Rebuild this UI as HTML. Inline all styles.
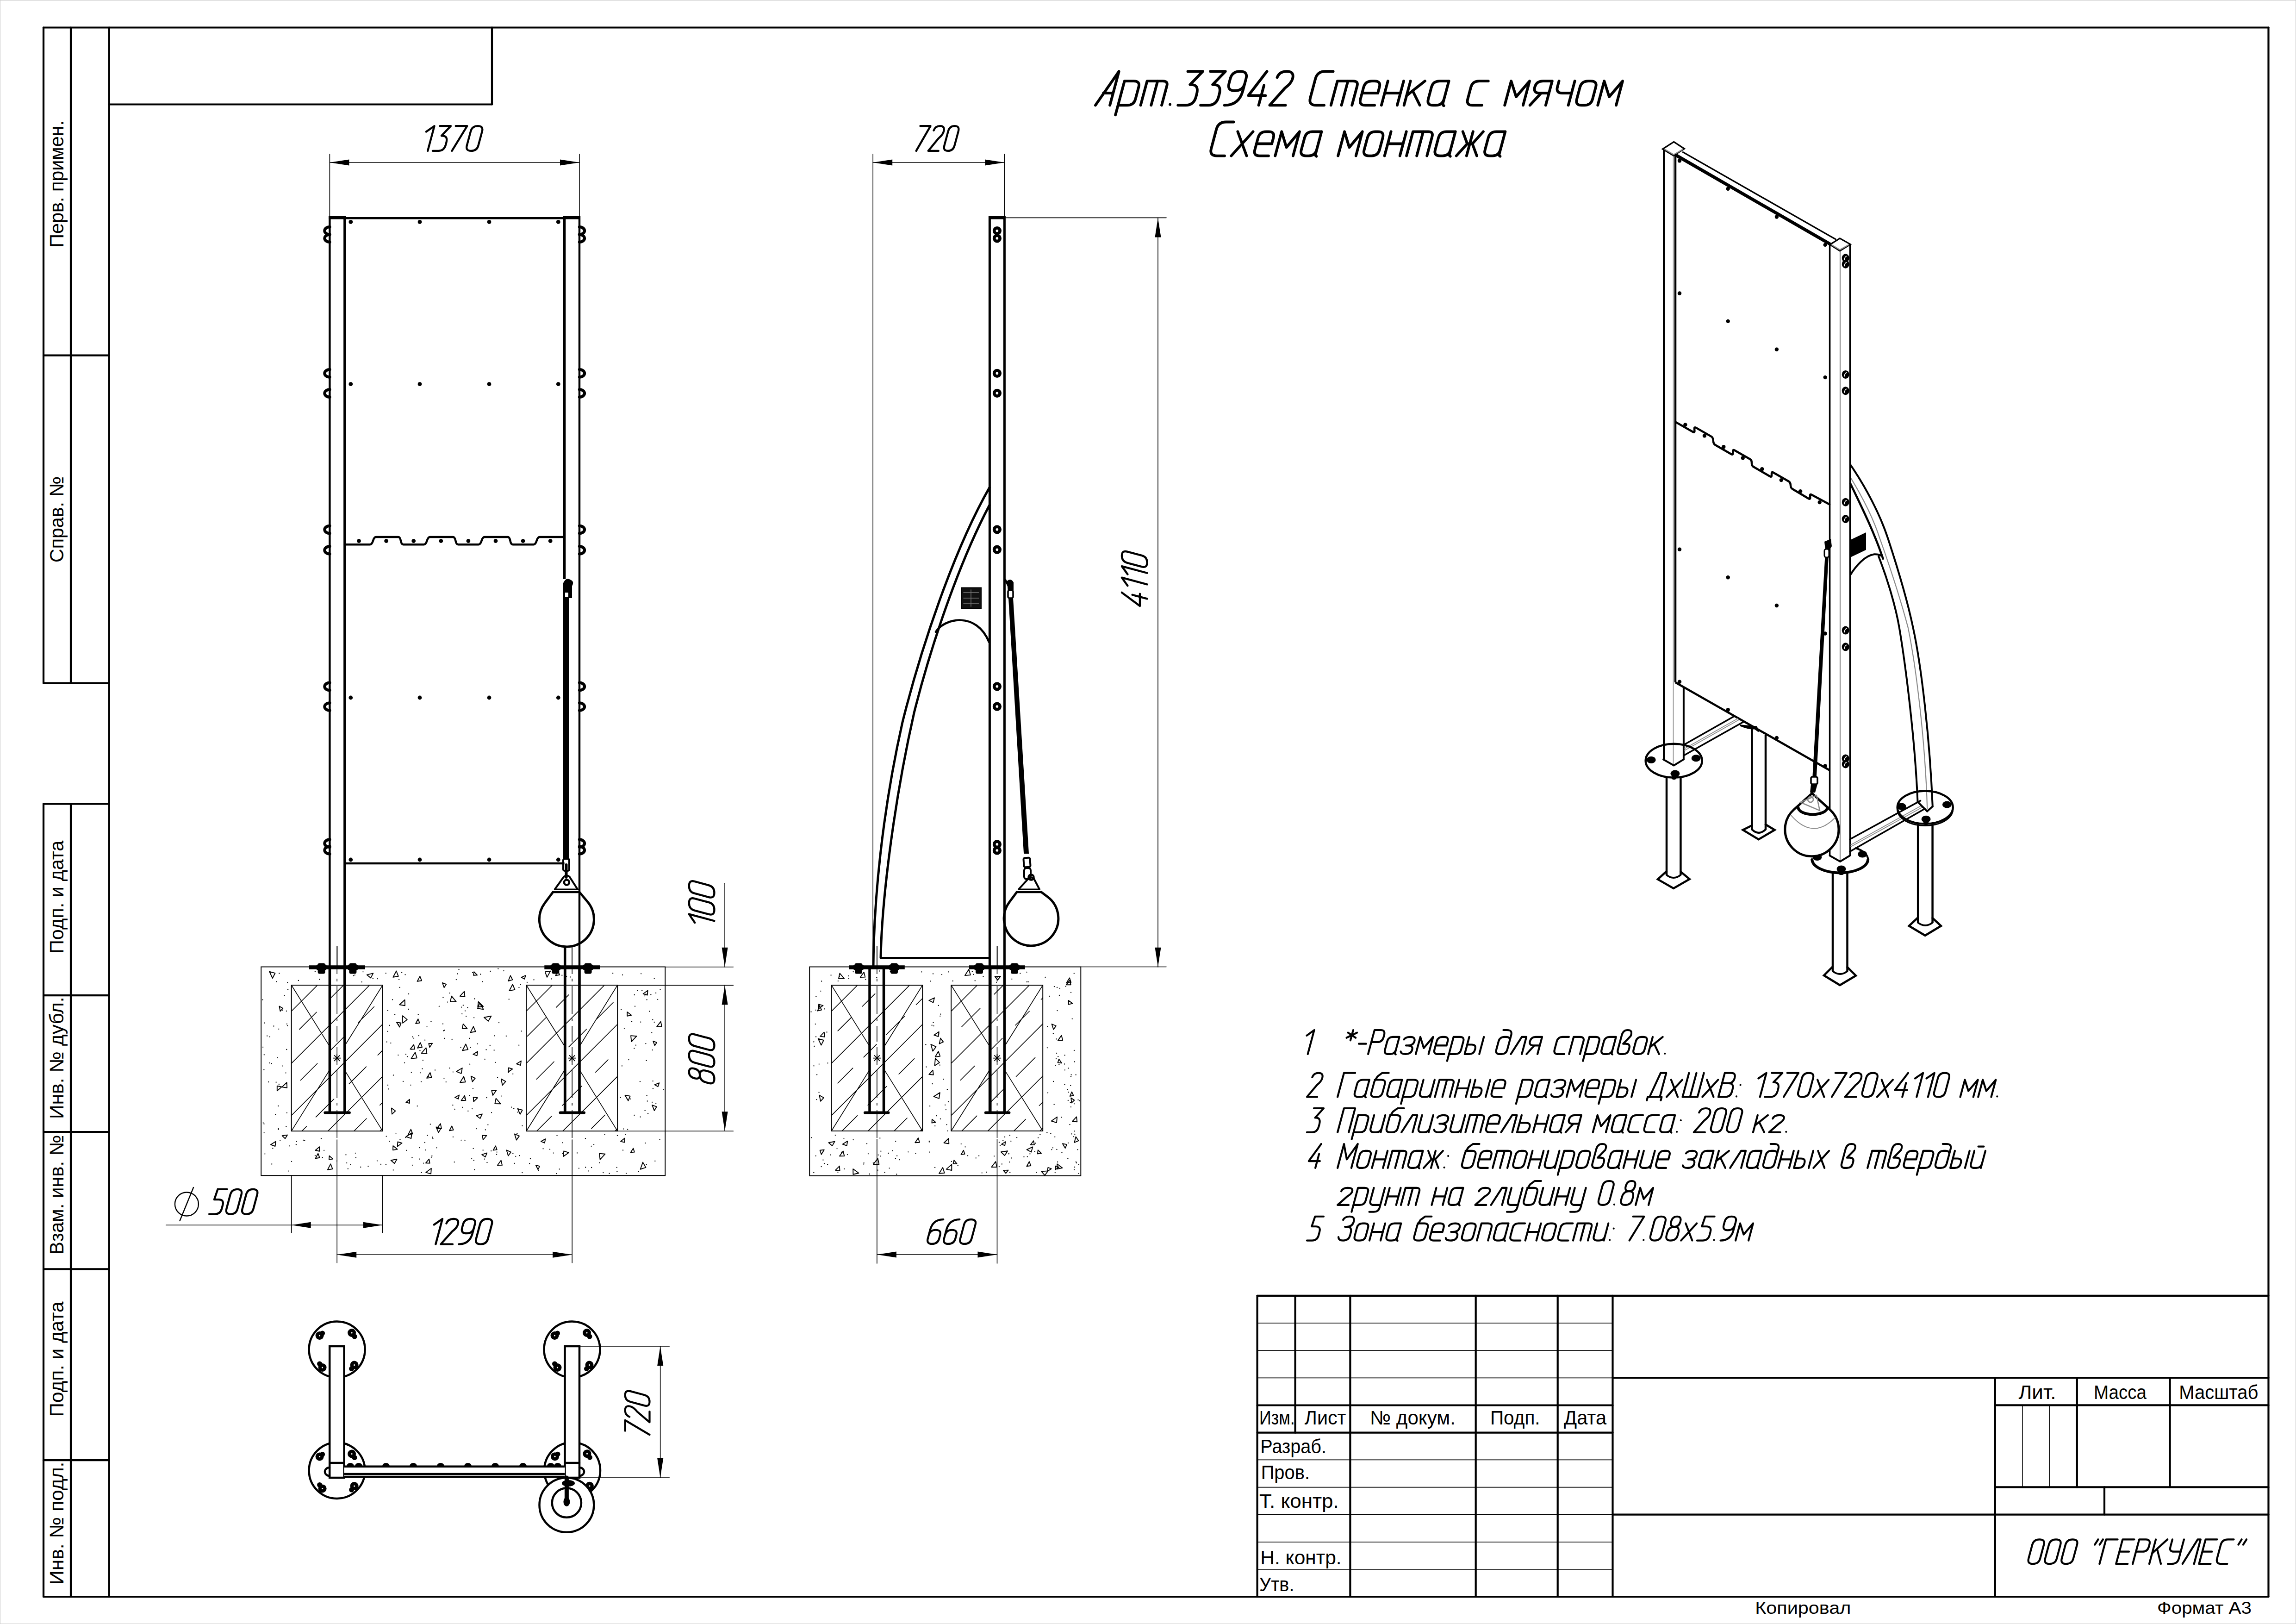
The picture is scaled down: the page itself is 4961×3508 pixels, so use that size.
<!DOCTYPE html>
<html><head><meta charset="utf-8"><style>
html,body{margin:0;padding:0;background:#fff;overflow:hidden;}
svg{display:block;}
.sans{font-family:"Liberation Sans",sans-serif;fill:#000;stroke:none;}
.gost{font-family:"Liberation Sans",sans-serif;font-style:italic;fill:#000;stroke:none;}
</style></head><body>
<svg width="4961" height="3508" viewBox="0 0 4961 3508">
<rect width="4961" height="3508" fill="#fff"/>
<g stroke="#000" stroke-linecap="round" fill="none">
<rect x="0" y="0" width="4961" height="1" fill="#bbb" stroke="none"/>
<rect x="0" y="0" width="1" height="3508" fill="#cbcbcb" stroke="none"/>
<rect x="4960" y="0" width="1" height="3508" fill="#c8c8c8" stroke="none"/>
<rect x="0" y="3507" width="4961" height="1" fill="#cbcbcb" stroke="none"/>
<line x1="94.0" y1="59.5" x2="4901.5" y2="59.5" stroke-width="4.2" />
<line x1="94.0" y1="3449.0" x2="4901.5" y2="3449.0" stroke-width="4.2" />
<line x1="94.0" y1="59.5" x2="94.0" y2="1475.7" stroke-width="4.2" />
<line x1="4901.5" y1="59.5" x2="4901.5" y2="3449.0" stroke-width="4.2" />
<line x1="235.7" y1="59.5" x2="235.7" y2="3449.0" stroke-width="4.2" />
<line x1="235.7" y1="225.5" x2="1063.0" y2="225.5" stroke-width="4.2" />
<line x1="1063.0" y1="59.5" x2="1063.0" y2="225.5" stroke-width="4.2" />
<line x1="153.0" y1="59.5" x2="153.0" y2="1475.7" stroke-width="4.2" />
<line x1="94.0" y1="767.7" x2="235.7" y2="767.7" stroke-width="4.2" />
<line x1="94.0" y1="1475.7" x2="235.7" y2="1475.7" stroke-width="4.2" />
<line x1="94.0" y1="1736.3" x2="235.7" y2="1736.3" stroke-width="4.2" />
<line x1="94.0" y1="1736.3" x2="94.0" y2="3449.0" stroke-width="4.2" />
<line x1="153.0" y1="1736.3" x2="153.0" y2="3449.0" stroke-width="4.2" />
<line x1="94.0" y1="2150.1" x2="235.7" y2="2150.1" stroke-width="4.2" />
<line x1="94.0" y1="2445.0" x2="235.7" y2="2445.0" stroke-width="4.2" />
<line x1="94.0" y1="2741.3" x2="235.7" y2="2741.3" stroke-width="4.2" />
<line x1="94.0" y1="3154.2" x2="235.7" y2="3154.2" stroke-width="4.2" />
<text class="sans" transform="translate(137,397.3) rotate(-90)" font-size="42.5" text-anchor="middle" textLength="274.7" lengthAdjust="spacingAndGlyphs">Перв. примен.</text>
<text class="sans" transform="translate(137,1121.8) rotate(-90)" font-size="42.5" text-anchor="middle" textLength="186.4" lengthAdjust="spacingAndGlyphs">Справ. №</text>
<text class="sans" transform="translate(137,1937.8) rotate(-90)" font-size="42.5" text-anchor="middle" textLength="244.5" lengthAdjust="spacingAndGlyphs">Подп. и дата</text>
<text class="sans" transform="translate(137,2285.2) rotate(-90)" font-size="42.5" text-anchor="middle" textLength="263.6" lengthAdjust="spacingAndGlyphs">Инв. № дубл.</text>
<text class="sans" transform="translate(137,2580.8) rotate(-90)" font-size="42.5" text-anchor="middle" textLength="258.5" lengthAdjust="spacingAndGlyphs">Взам. инв. №</text>
<text class="sans" transform="translate(137,2935.9) rotate(-90)" font-size="42.5" text-anchor="middle" textLength="249" lengthAdjust="spacingAndGlyphs">Подп. и дата</text>
<text class="sans" transform="translate(137,3290.3) rotate(-90)" font-size="42.5" text-anchor="middle" textLength="265.4" lengthAdjust="spacingAndGlyphs">Инв. № подл.</text>
<line x1="2716.6" y1="2798.8" x2="4901.5" y2="2798.8" stroke-width="4.2" />
<line x1="2716.6" y1="2798.8" x2="2716.6" y2="3449.0" stroke-width="4.2" />
<line x1="2716.6" y1="2858.0" x2="3484.5" y2="2858.0" stroke-width="1.6" />
<line x1="2716.6" y1="2917.2" x2="3484.5" y2="2917.2" stroke-width="1.6" />
<line x1="2716.6" y1="2976.4" x2="3484.5" y2="2976.4" stroke-width="1.6" />
<line x1="2716.6" y1="3035.5" x2="3484.5" y2="3035.5" stroke-width="4.2" />
<line x1="2716.6" y1="3094.7" x2="3484.5" y2="3094.7" stroke-width="4.2" />
<line x1="2716.6" y1="3153.4" x2="3484.5" y2="3153.4" stroke-width="1.6" />
<line x1="2716.6" y1="3212.6" x2="3484.5" y2="3212.6" stroke-width="1.6" />
<line x1="2716.6" y1="3271.8" x2="3484.5" y2="3271.8" stroke-width="1.6" />
<line x1="2716.6" y1="3331.0" x2="3484.5" y2="3331.0" stroke-width="1.6" />
<line x1="2716.6" y1="3390.0" x2="3484.5" y2="3390.0" stroke-width="1.6" />
<line x1="2798.6" y1="2798.8" x2="2798.6" y2="3094.7" stroke-width="4.2" />
<line x1="2917.4" y1="2798.8" x2="2917.4" y2="3449.0" stroke-width="4.2" />
<line x1="3188.7" y1="2798.8" x2="3188.7" y2="3449.0" stroke-width="4.2" />
<line x1="3365.7" y1="2798.8" x2="3365.7" y2="3449.0" stroke-width="4.2" />
<line x1="3484.5" y1="2798.8" x2="3484.5" y2="3449.0" stroke-width="4.2" />
<line x1="3484.5" y1="2976.1" x2="4901.5" y2="2976.1" stroke-width="4.2" />
<line x1="4310.8" y1="2976.1" x2="4310.8" y2="3449.0" stroke-width="4.2" />
<line x1="4310.8" y1="3035.3" x2="4901.5" y2="3035.3" stroke-width="4.2" />
<line x1="4487.8" y1="2976.1" x2="4487.8" y2="3212.4" stroke-width="4.2" />
<line x1="4688.6" y1="2976.1" x2="4688.6" y2="3212.4" stroke-width="4.2" />
<line x1="4370.0" y1="3035.3" x2="4370.0" y2="3212.4" stroke-width="1.6" />
<line x1="4428.6" y1="3035.3" x2="4428.6" y2="3212.4" stroke-width="1.6" />
<line x1="4310.8" y1="3212.4" x2="4901.5" y2="3212.4" stroke-width="4.2" />
<line x1="4547.0" y1="3212.4" x2="4547.0" y2="3271.6" stroke-width="4.2" />
<line x1="3484.5" y1="3271.6" x2="4901.5" y2="3271.6" stroke-width="4.2" />
<text class="sans" x="2721.0" y="3077.0" font-size="42" text-anchor="start" textLength="76.7" lengthAdjust="spacingAndGlyphs">Изм.</text>
<text class="sans" x="2818.8" y="3077.0" font-size="42" text-anchor="start" textLength="89.7" lengthAdjust="spacingAndGlyphs">Лист</text>
<text class="sans" x="2960.0" y="3077.0" font-size="42" text-anchor="start" textLength="185.0" lengthAdjust="spacingAndGlyphs">№ докум.</text>
<text class="sans" x="3220.0" y="3077.0" font-size="42" text-anchor="start" textLength="107.6" lengthAdjust="spacingAndGlyphs">Подп.</text>
<text class="sans" x="3379.0" y="3077.0" font-size="42" text-anchor="start" textLength="92.0" lengthAdjust="spacingAndGlyphs">Дата</text>
<text class="sans" x="2723.3" y="3138.6" font-size="42" text-anchor="start" textLength="142.7" lengthAdjust="spacingAndGlyphs">Разраб.</text>
<text class="sans" x="2724.7" y="3194.7" font-size="42" text-anchor="start" textLength="105.3" lengthAdjust="spacingAndGlyphs">Пров.</text>
<text class="sans" x="2721.0" y="3256.6" font-size="42" text-anchor="start" textLength="171.8" lengthAdjust="spacingAndGlyphs">Т. контр.</text>
<text class="sans" x="2723.3" y="3379.4" font-size="42" text-anchor="start" textLength="175.3" lengthAdjust="spacingAndGlyphs">Н. контр.</text>
<text class="sans" x="2721.0" y="3436.8" font-size="42" text-anchor="start" textLength="75.4" lengthAdjust="spacingAndGlyphs">Утв.</text>
<text class="sans" x="4361.5" y="3022.0" font-size="42" text-anchor="start" textLength="80.9" lengthAdjust="spacingAndGlyphs">Лит.</text>
<text class="sans" x="4524.0" y="3022.0" font-size="42" text-anchor="start" textLength="113.9" lengthAdjust="spacingAndGlyphs">Масса</text>
<text class="sans" x="4708.3" y="3022.0" font-size="42" text-anchor="start" textLength="171.1" lengthAdjust="spacingAndGlyphs">Масштаб</text>
<text class="sans" x="3792.2" y="3486.0" font-size="37" text-anchor="start" textLength="207.3" lengthAdjust="spacingAndGlyphs">Копировал</text>
<text class="sans" x="4661.0" y="3486.0" font-size="37" text-anchor="start" textLength="204.0" lengthAdjust="spacingAndGlyphs">Формат А3</text>
<g transform="translate(2366.9,227.3)" stroke="#000" fill="none" stroke-width="5.85" stroke-linecap="round" stroke-linejoin="round"><path vector-effect="non-scaling-stroke" transform="matrix(5.6797,0,1.4000,-5.2249,-0.00,0)" d="M0,0 L5.5,14 L5.5,0 M1.8,5 L5.5,5"/><path vector-effect="non-scaling-stroke" transform="matrix(5.6797,0,1.4000,-5.2249,48.85,0)" d="M0,-4 L0,10 L3.5,10 Q6,10 6,7.5 L6,2.5 Q6,0 3.5,0 L0,0"/><path vector-effect="non-scaling-stroke" transform="matrix(5.6797,0,1.4000,-5.2249,97.69,0)" d="M0,0 L0,10 L6,10 Q8,10 8,8 L8,0 M4,0 L4,10"/><path vector-effect="non-scaling-stroke" transform="matrix(5.6797,0,1.4000,-5.2249,157.90,0)" d="M0.5,0.3 L0.5,0.31"/><path vector-effect="non-scaling-stroke" transform="matrix(5.6797,0,1.4000,-5.2249,178.34,0)" d="M0.3,14 L6,14 L2.5,8.5 L3,8.5 Q6,8.5 6,4.5 L6,3.5 Q6,0 3,0 L0,0"/><path vector-effect="non-scaling-stroke" transform="matrix(5.6797,0,1.4000,-5.2249,227.19,0)" d="M0.3,14 L6,14 L2.5,8.5 L3,8.5 Q6,8.5 6,4.5 L6,3.5 Q6,0 3,0 L0,0"/><path vector-effect="non-scaling-stroke" transform="matrix(5.6797,0,1.4000,-5.2249,276.03,0)" d="M0.5,0 Q6,0 6,6 L6,11 Q6,14 3,14 Q0,14 0,11 L0,9 Q0,6 3,6 Q6,6 6,9"/><path vector-effect="non-scaling-stroke" transform="matrix(5.6797,0,1.4000,-5.2249,324.88,0)" d="M4.6,14 L0,4 L6.5,4 M4.9,8.2 L4.9,0"/><path vector-effect="non-scaling-stroke" transform="matrix(5.6797,0,1.4000,-5.2249,376.56,0)" d="M0,11.5 Q0.3,14 3,14 Q6,14 6,11 Q6,9 4,7 L0,0 L6,0"/><path vector-effect="non-scaling-stroke" transform="matrix(5.6797,0,1.4000,-5.2249,460.05,0)" d="M6,14 L3,14 Q0,14 0,11 L0,3 Q0,0 3,0 L6,0"/><path vector-effect="non-scaling-stroke" transform="matrix(5.6797,0,1.4000,-5.2249,508.90,0)" d="M0,0 L0,10 L6,10 Q8,10 8,8 L8,0 M4,0 L4,10"/><path vector-effect="non-scaling-stroke" transform="matrix(5.6797,0,1.4000,-5.2249,569.10,0)" d="M6,0 L2.5,0 Q0,0 0,2.5 L0,7.5 Q0,10 2.5,10 L3.5,10 Q6,10 6,7.5 L6,5 L0,5"/><path vector-effect="non-scaling-stroke" transform="matrix(5.6797,0,1.4000,-5.2249,617.95,0)" d="M0,0 L0,10 M0,5 L6,5 M6,0 L6,10"/><path vector-effect="non-scaling-stroke" transform="matrix(5.6797,0,1.4000,-5.2249,666.79,0)" d="M0,0 L0,10 M5.5,10 L0,4 M1.8,6 L6,0"/><path vector-effect="non-scaling-stroke" transform="matrix(5.6797,0,1.4000,-5.2249,715.64,0)" d="M6,10 L2.5,10 Q0,10 0,7.5 L0,2.5 Q0,0 2.5,0 L3.5,0 Q6,0 6,2.5 M6,10 L6,1 Q6,0 6.6,-0.2"/><path vector-effect="non-scaling-stroke" transform="matrix(5.6797,0,1.4000,-5.2249,800.84,0)" d="M6,10 L2.5,10 Q0,10 0,7.5 L0,2.5 Q0,0 2.5,0 L6,0"/><path vector-effect="non-scaling-stroke" transform="matrix(5.6797,0,1.4000,-5.2249,884.33,0)" d="M0,0 L0,10 L3.5,3.5 L7,10 L7,0"/><path vector-effect="non-scaling-stroke" transform="matrix(5.6797,0,1.4000,-5.2249,938.85,0)" d="M6,0 L6,10 L2.5,10 Q0,10 0,7.5 L0,7.5 Q0,5 2.5,5 L6,5 M3,5 L0,0"/><path vector-effect="non-scaling-stroke" transform="matrix(5.6797,0,1.4000,-5.2249,987.70,0)" d="M0,10 L0,7.5 Q0,5 2.5,5 L6,5 M6,10 L6,0"/><path vector-effect="non-scaling-stroke" transform="matrix(5.6797,0,1.4000,-5.2249,1036.54,0)" d="M2.5,0 L3.5,0 Q6,0 6,2.5 L6,7.5 Q6,10 3.5,10 L2.5,10 Q0,10 0,7.5 L0,2.5 Q0,0 2.5,0 Z"/><path vector-effect="non-scaling-stroke" transform="matrix(5.6797,0,1.4000,-5.2249,1085.39,0)" d="M0,0 L0,10 L3.5,3.5 L7,10 L7,0"/></g>
<g transform="translate(2612.9,336.6)" stroke="#000" fill="none" stroke-width="5.85" stroke-linecap="round" stroke-linejoin="round"><path vector-effect="non-scaling-stroke" transform="matrix(5.5206,0,1.4000,-5.2249,-0.00,0)" d="M6,14 L3,14 Q0,14 0,11 L0,3 Q0,0 3,0 L6,0"/><path vector-effect="non-scaling-stroke" transform="matrix(5.5206,0,1.4000,-5.2249,47.48,0)" d="M0,0 L6,10 M0,10 L6,0"/><path vector-effect="non-scaling-stroke" transform="matrix(5.5206,0,1.4000,-5.2249,94.96,0)" d="M6,0 L2.5,0 Q0,0 0,2.5 L0,7.5 Q0,10 2.5,10 L3.5,10 Q6,10 6,7.5 L6,5 L0,5"/><path vector-effect="non-scaling-stroke" transform="matrix(5.5206,0,1.4000,-5.2249,142.43,0)" d="M0,0 L0,10 L3.5,3.5 L7,10 L7,0"/><path vector-effect="non-scaling-stroke" transform="matrix(5.5206,0,1.4000,-5.2249,195.43,0)" d="M6,10 L2.5,10 Q0,10 0,7.5 L0,2.5 Q0,0 2.5,0 L3.5,0 Q6,0 6,2.5 M6,10 L6,1 Q6,0 6.6,-0.2"/><path vector-effect="non-scaling-stroke" transform="matrix(5.5206,0,1.4000,-5.2249,278.24,0)" d="M0,0 L0,10 L3.5,3.5 L7,10 L7,0"/><path vector-effect="non-scaling-stroke" transform="matrix(5.5206,0,1.4000,-5.2249,331.24,0)" d="M2.5,0 L3.5,0 Q6,0 6,2.5 L6,7.5 Q6,10 3.5,10 L2.5,10 Q0,10 0,7.5 L0,2.5 Q0,0 2.5,0 Z"/><path vector-effect="non-scaling-stroke" transform="matrix(5.5206,0,1.4000,-5.2249,378.72,0)" d="M0,0 L0,10 M0,5 L6,5 M6,0 L6,10"/><path vector-effect="non-scaling-stroke" transform="matrix(5.5206,0,1.4000,-5.2249,426.19,0)" d="M0,0 L0,10 L6,10 Q8,10 8,8 L8,0 M4,0 L4,10"/><path vector-effect="non-scaling-stroke" transform="matrix(5.5206,0,1.4000,-5.2249,484.71,0)" d="M6,10 L2.5,10 Q0,10 0,7.5 L0,2.5 Q0,0 2.5,0 L3.5,0 Q6,0 6,2.5 M6,10 L6,1 Q6,0 6.6,-0.2"/><path vector-effect="non-scaling-stroke" transform="matrix(5.5206,0,1.4000,-5.2249,533.85,0)" d="M0,0 L3,5 L0,10 M4,0 L4,10 M8,0 L5,5 L8,10 M3,5 L5,5"/><path vector-effect="non-scaling-stroke" transform="matrix(5.5206,0,1.4000,-5.2249,592.37,0)" d="M6,10 L2.5,10 Q0,10 0,7.5 L0,2.5 Q0,0 2.5,0 L3.5,0 Q6,0 6,2.5 M6,10 L6,1 Q6,0 6.6,-0.2"/></g>
<g transform="translate(2823.9,2276.9)" stroke="#000" fill="none" stroke-width="4.15" stroke-linecap="round" stroke-linejoin="round"><path vector-effect="non-scaling-stroke" transform="matrix(3.7037,0,0.9924,-3.7037,-11.11,0)" d="M0,10.8 L3.5,14 L3.5,0"/></g>
<g transform="translate(2900.1,2276.9)" stroke="#000" fill="none" stroke-width="4.15" stroke-linecap="round" stroke-linejoin="round"><path vector-effect="non-scaling-stroke" transform="matrix(3.9439,0,0.9924,-3.7037,-0.00,0)" d="M2.5,8 L2.5,14 M0,12.5 L5,9.5 M0,9.5 L5,12.5"/><path vector-effect="non-scaling-stroke" transform="matrix(3.9439,0,0.9924,-3.7037,29.97,0)" d="M0,6 L4,6"/><path vector-effect="non-scaling-stroke" transform="matrix(3.9439,0,0.9924,-3.7037,56.00,0)" d="M0,0 L0,14 L3.5,14 Q6,14 6,11 L6,10 Q6,7 3.5,7 L0,7"/><path vector-effect="non-scaling-stroke" transform="matrix(3.9439,0,0.9924,-3.7037,89.92,0)" d="M6,10 L2.5,10 Q0,10 0,7.5 L0,2.5 Q0,0 2.5,0 L3.5,0 Q6,0 6,2.5 M6,10 L6,1 Q6,0 6.6,-0.2"/><path vector-effect="non-scaling-stroke" transform="matrix(3.9439,0,0.9924,-3.7037,125.02,0)" d="M0,8.5 Q0.5,10 3,10 Q6,10 6,7.5 Q6,5 3,5 L2,5 M3,5 Q6,5 6,2.5 Q6,0 3,0 Q0.5,0 0,1.5"/><path vector-effect="non-scaling-stroke" transform="matrix(3.9439,0,0.9924,-3.7037,158.94,0)" d="M0,0 L0,10 L3.5,3.5 L7,10 L7,0"/><path vector-effect="non-scaling-stroke" transform="matrix(3.9439,0,0.9924,-3.7037,196.80,0)" d="M6,0 L2.5,0 Q0,0 0,2.5 L0,7.5 Q0,10 2.5,10 L3.5,10 Q6,10 6,7.5 L6,5 L0,5"/><path vector-effect="non-scaling-stroke" transform="matrix(3.9439,0,0.9924,-3.7037,230.72,0)" d="M0,-4 L0,10 L3.5,10 Q6,10 6,7.5 L6,2.5 Q6,0 3.5,0 L0,0"/><path vector-effect="non-scaling-stroke" transform="matrix(3.9439,0,0.9924,-3.7037,264.64,0)" d="M0,10 L0,0 L2.5,0 Q5,0 5,2.5 L5,3 Q5,5.5 2.5,5.5 L0,5.5 M8,0 L8,10"/><path vector-effect="non-scaling-stroke" transform="matrix(3.9439,0,0.9924,-3.7037,330.50,0)" d="M0,2.5 Q0,0 2.5,0 L3.5,0 Q6,0 6,2.5 L6,7.5 Q6,10 3.5,10 L2.5,10 Q0,10 0,7.5 L0,2.5 M6,7.5 L6,11 Q6,14 3,14 L1,14"/><path vector-effect="non-scaling-stroke" transform="matrix(3.9439,0,0.9924,-3.7037,364.42,0)" d="M0,0 L3.5,10 L6,10 L6,0"/><path vector-effect="non-scaling-stroke" transform="matrix(3.9439,0,0.9924,-3.7037,398.33,0)" d="M6,0 L6,10 L2.5,10 Q0,10 0,7.5 L0,7.5 Q0,5 2.5,5 L6,5 M3,5 L0,0"/><path vector-effect="non-scaling-stroke" transform="matrix(3.9439,0,0.9924,-3.7037,456.31,0)" d="M6,10 L2.5,10 Q0,10 0,7.5 L0,2.5 Q0,0 2.5,0 L6,0"/><path vector-effect="non-scaling-stroke" transform="matrix(3.9439,0,0.9924,-3.7037,490.23,0)" d="M0,0 L0,10 L3.5,10 Q6,10 6,7.5 L6,0"/><path vector-effect="non-scaling-stroke" transform="matrix(3.9439,0,0.9924,-3.7037,524.14,0)" d="M0,-4 L0,10 L3.5,10 Q6,10 6,7.5 L6,2.5 Q6,0 3.5,0 L0,0"/><path vector-effect="non-scaling-stroke" transform="matrix(3.9439,0,0.9924,-3.7037,558.06,0)" d="M6,10 L2.5,10 Q0,10 0,7.5 L0,2.5 Q0,0 2.5,0 L3.5,0 Q6,0 6,2.5 M6,10 L6,1 Q6,0 6.6,-0.2"/><path vector-effect="non-scaling-stroke" transform="matrix(3.9439,0,0.9924,-3.7037,593.16,0)" d="M0,9 L0,2.5 Q0,0 2.5,0 L3.5,0 Q6,0 6,2.5 L6,3.5 Q6,6 3.5,6 L2,6 L5,10.5 Q5.5,14 2.5,14 Q0,14 0,11 L0,9"/><path vector-effect="non-scaling-stroke" transform="matrix(3.9439,0,0.9924,-3.7037,627.08,0)" d="M2.5,0 L3.5,0 Q6,0 6,2.5 L6,7.5 Q6,10 3.5,10 L2.5,10 Q0,10 0,7.5 L0,2.5 Q0,0 2.5,0 Z"/><path vector-effect="non-scaling-stroke" transform="matrix(3.9439,0,0.9924,-3.7037,661.00,0)" d="M0,0 L0,10 M5.5,10 L0,4 M1.8,6 L6,0"/><path vector-effect="non-scaling-stroke" transform="matrix(3.9439,0,0.9924,-3.7037,694.92,0)" d="M0.5,0.3 L0.5,0.31"/></g>
<g transform="translate(2823.9,2369.5)" stroke="#000" fill="none" stroke-width="4.15" stroke-linecap="round" stroke-linejoin="round"><path vector-effect="non-scaling-stroke" transform="matrix(3.7037,0,0.9924,-3.7037,-0.00,0)" d="M0,11.5 Q0.3,14 3,14 Q6,14 6,11 Q6,9 4,7 L0,0 L6,0"/></g>
<g transform="translate(2890.1,2369.5)" stroke="#000" fill="none" stroke-width="4.15" stroke-linecap="round" stroke-linejoin="round"><path vector-effect="non-scaling-stroke" transform="matrix(4.0295,0,0.9924,-3.7037,-0.00,0)" d="M0,0 L0,14 L6,14"/><path vector-effect="non-scaling-stroke" transform="matrix(4.0295,0,0.9924,-3.7037,34.65,0)" d="M6,10 L2.5,10 Q0,10 0,7.5 L0,2.5 Q0,0 2.5,0 L3.5,0 Q6,0 6,2.5 M6,10 L6,1 Q6,0 6.6,-0.2"/><path vector-effect="non-scaling-stroke" transform="matrix(4.0295,0,0.9924,-3.7037,70.52,0)" d="M6.5,14 L3,14 L1,12 L0,9 L0,2.5 Q0,0 2.5,0 L3.5,0 Q6,0 6,2.5 L6,7.5 Q6,10 3.5,10 L0,10"/><path vector-effect="non-scaling-stroke" transform="matrix(4.0295,0,0.9924,-3.7037,105.17,0)" d="M6,10 L2.5,10 Q0,10 0,7.5 L0,2.5 Q0,0 2.5,0 L3.5,0 Q6,0 6,2.5 M6,10 L6,1 Q6,0 6.6,-0.2"/><path vector-effect="non-scaling-stroke" transform="matrix(4.0295,0,0.9924,-3.7037,141.03,0)" d="M0,-4 L0,10 L3.5,10 Q6,10 6,7.5 L6,2.5 Q6,0 3.5,0 L0,0"/><path vector-effect="non-scaling-stroke" transform="matrix(4.0295,0,0.9924,-3.7037,175.69,0)" d="M0,10 L0,2.5 Q0,0 2.5,0 L3.5,0 Q6,0 6,2.5 M6,10 L6,0"/><path vector-effect="non-scaling-stroke" transform="matrix(4.0295,0,0.9924,-3.7037,210.34,0)" d="M0,0 L0,10 L6,10 Q8,10 8,8 L8,0 M4,0 L4,10"/><path vector-effect="non-scaling-stroke" transform="matrix(4.0295,0,0.9924,-3.7037,253.05,0)" d="M0,0 L0,10 M0,5 L6,5 M6,0 L6,10"/><path vector-effect="non-scaling-stroke" transform="matrix(4.0295,0,0.9924,-3.7037,287.71,0)" d="M0,10 L0,0 L2.5,0 Q5,0 5,2.5 L5,3 Q5,5.5 2.5,5.5 L0,5.5 M8,0 L8,10"/><path vector-effect="non-scaling-stroke" transform="matrix(4.0295,0,0.9924,-3.7037,330.42,0)" d="M6,0 L2.5,0 Q0,0 0,2.5 L0,7.5 Q0,10 2.5,10 L3.5,10 Q6,10 6,7.5 L6,5 L0,5"/><path vector-effect="non-scaling-stroke" transform="matrix(4.0295,0,0.9924,-3.7037,389.66,0)" d="M0,-4 L0,10 L3.5,10 Q6,10 6,7.5 L6,2.5 Q6,0 3.5,0 L0,0"/><path vector-effect="non-scaling-stroke" transform="matrix(4.0295,0,0.9924,-3.7037,424.31,0)" d="M6,10 L2.5,10 Q0,10 0,7.5 L0,2.5 Q0,0 2.5,0 L3.5,0 Q6,0 6,2.5 M6,10 L6,1 Q6,0 6.6,-0.2"/><path vector-effect="non-scaling-stroke" transform="matrix(4.0295,0,0.9924,-3.7037,460.17,0)" d="M0,8.5 Q0.5,10 3,10 Q6,10 6,7.5 Q6,5 3,5 L2,5 M3,5 Q6,5 6,2.5 Q6,0 3,0 Q0.5,0 0,1.5"/><path vector-effect="non-scaling-stroke" transform="matrix(4.0295,0,0.9924,-3.7037,494.83,0)" d="M0,0 L0,10 L3.5,3.5 L7,10 L7,0"/><path vector-effect="non-scaling-stroke" transform="matrix(4.0295,0,0.9924,-3.7037,533.51,0)" d="M6,0 L2.5,0 Q0,0 0,2.5 L0,7.5 Q0,10 2.5,10 L3.5,10 Q6,10 6,7.5 L6,5 L0,5"/><path vector-effect="non-scaling-stroke" transform="matrix(4.0295,0,0.9924,-3.7037,568.16,0)" d="M0,-4 L0,10 L3.5,10 Q6,10 6,7.5 L6,2.5 Q6,0 3.5,0 L0,0"/><path vector-effect="non-scaling-stroke" transform="matrix(4.0295,0,0.9924,-3.7037,602.82,0)" d="M0,10 L0,0 L2.5,0 Q5,0 5,2.5 L5,3 Q5,5.5 2.5,5.5 L0,5.5 M8,0 L8,10"/><path vector-effect="non-scaling-stroke" transform="matrix(4.0295,0,0.9924,-3.7037,670.11,0)" d="M0,-2 L0,0 L7.5,0 L7.5,-2 M1,0 L3.5,14 L6.5,14 L6.5,0"/><path vector-effect="non-scaling-stroke" transform="matrix(4.0295,0,0.9924,-3.7037,710.81,0)" d="M0,0 L6,10 M0,10 L6,0"/><path vector-effect="non-scaling-stroke" transform="matrix(4.0295,0,0.9924,-3.7037,745.46,0)" d="M0,14 L0,0 L8,0 L8,14 M4,0 L4,14"/><path vector-effect="non-scaling-stroke" transform="matrix(4.0295,0,0.9924,-3.7037,788.18,0)" d="M0,0 L6,10 M0,10 L6,0"/><path vector-effect="non-scaling-stroke" transform="matrix(4.0295,0,0.9924,-3.7037,822.83,0)" d="M0,0 L0,14 L3.5,14 Q6,14 6,11 Q6,8 3.5,8 L0,8 M3.5,8 Q6.5,8 6.5,4.5 L6.5,3 Q6.5,0 3.5,0 L0,0"/><path vector-effect="non-scaling-stroke" transform="matrix(4.0295,0,0.9924,-3.7037,859.50,0)" d="M0.5,0.3 L0.5,0.31 M1,7 L1,7.01"/><path vector-effect="non-scaling-stroke" transform="matrix(4.0295,0,0.9924,-3.7037,898.59,0)" d="M0,10.8 L3.5,14 L3.5,0"/><path vector-effect="non-scaling-stroke" transform="matrix(4.0295,0,0.9924,-3.7037,923.17,0)" d="M0.3,14 L6,14 L2.5,8.5 L3,8.5 Q6,8.5 6,4.5 L6,3.5 Q6,0 3,0 L0,0"/><path vector-effect="non-scaling-stroke" transform="matrix(4.0295,0,0.9924,-3.7037,957.82,0)" d="M0,14 L6,14 L1.5,0"/><path vector-effect="non-scaling-stroke" transform="matrix(4.0295,0,0.9924,-3.7037,992.48,0)" d="M3,0 L3,0 Q6,0 6,3 L6,11 Q6,14 3,14 L3,14 Q0,14 0,11 L0,3 Q0,0 3,0 Z"/><path vector-effect="non-scaling-stroke" transform="matrix(4.0295,0,0.9924,-3.7037,1027.13,0)" d="M0,0 L6,10 M0,10 L6,0"/><path vector-effect="non-scaling-stroke" transform="matrix(4.0295,0,0.9924,-3.7037,1061.78,0)" d="M0,14 L6,14 L1.5,0"/><path vector-effect="non-scaling-stroke" transform="matrix(4.0295,0,0.9924,-3.7037,1096.44,0)" d="M0,11.5 Q0.3,14 3,14 Q6,14 6,11 Q6,9 4,7 L0,0 L6,0"/><path vector-effect="non-scaling-stroke" transform="matrix(4.0295,0,0.9924,-3.7037,1131.09,0)" d="M3,0 L3,0 Q6,0 6,3 L6,11 Q6,14 3,14 L3,14 Q0,14 0,11 L0,3 Q0,0 3,0 Z"/><path vector-effect="non-scaling-stroke" transform="matrix(4.0295,0,0.9924,-3.7037,1165.75,0)" d="M0,0 L6,10 M0,10 L6,0"/><path vector-effect="non-scaling-stroke" transform="matrix(4.0295,0,0.9924,-3.7037,1200.40,0)" d="M4.6,14 L0,4 L6.5,4 M4.9,8.2 L4.9,0"/><path vector-effect="non-scaling-stroke" transform="matrix(4.0295,0,0.9924,-3.7037,1237.07,0)" d="M0,10.8 L3.5,14 L3.5,0"/><path vector-effect="non-scaling-stroke" transform="matrix(4.0295,0,0.9924,-3.7037,1261.65,0)" d="M0,10.8 L3.5,14 L3.5,0"/><path vector-effect="non-scaling-stroke" transform="matrix(4.0295,0,0.9924,-3.7037,1286.23,0)" d="M3,0 L3,0 Q6,0 6,3 L6,11 Q6,14 3,14 L3,14 Q0,14 0,11 L0,3 Q0,0 3,0 Z"/><path vector-effect="non-scaling-stroke" transform="matrix(4.0295,0,0.9924,-3.7037,1345.46,0)" d="M0,0 L0,10 L3.5,3.5 L7,10 L7,0"/><path vector-effect="non-scaling-stroke" transform="matrix(4.0295,0,0.9924,-3.7037,1384.15,0)" d="M0,0 L0,10 L3.5,3.5 L7,10 L7,0"/><path vector-effect="non-scaling-stroke" transform="matrix(4.0295,0,0.9924,-3.7037,1422.83,0)" d="M0.5,0.3 L0.5,0.31"/></g>
<g transform="translate(2823.9,2445.9)" stroke="#000" fill="none" stroke-width="4.15" stroke-linecap="round" stroke-linejoin="round"><path vector-effect="non-scaling-stroke" transform="matrix(3.7037,0,0.9924,-3.7037,-0.00,0)" d="M0.3,14 L6,14 L2.5,8.5 L3,8.5 Q6,8.5 6,4.5 L6,3.5 Q6,0 3,0 L0,0"/></g>
<g transform="translate(2890.1,2445.9)" stroke="#000" fill="none" stroke-width="4.15" stroke-linecap="round" stroke-linejoin="round"><path vector-effect="non-scaling-stroke" transform="matrix(4.0151,0,0.9924,-3.7037,-0.00,0)" d="M0,0 L0,14 L6,14 L6,0"/><path vector-effect="non-scaling-stroke" transform="matrix(4.0151,0,0.9924,-3.7037,34.53,0)" d="M0,-4 L0,10 L3.5,10 Q6,10 6,7.5 L6,2.5 Q6,0 3.5,0 L0,0"/><path vector-effect="non-scaling-stroke" transform="matrix(4.0151,0,0.9924,-3.7037,69.06,0)" d="M0,10 L0,2.5 Q0,0 2.5,0 L3.5,0 Q6,0 6,2.5 M6,10 L6,0"/><path vector-effect="non-scaling-stroke" transform="matrix(4.0151,0,0.9924,-3.7037,103.59,0)" d="M6.5,14 L3,14 L1,12 L0,9 L0,2.5 Q0,0 2.5,0 L3.5,0 Q6,0 6,2.5 L6,7.5 Q6,10 3.5,10 L0,10"/><path vector-effect="non-scaling-stroke" transform="matrix(4.0151,0,0.9924,-3.7037,138.12,0)" d="M0,0 L3.5,10 L6,10 L6,0"/><path vector-effect="non-scaling-stroke" transform="matrix(4.0151,0,0.9924,-3.7037,172.65,0)" d="M0,10 L0,2.5 Q0,0 2.5,0 L3.5,0 Q6,0 6,2.5 M6,10 L6,0"/><path vector-effect="non-scaling-stroke" transform="matrix(4.0151,0,0.9924,-3.7037,207.18,0)" d="M0,8.5 Q0.5,10 3,10 Q6,10 6,7.5 Q6,5 3,5 L2,5 M3,5 Q6,5 6,2.5 Q6,0 3,0 Q0.5,0 0,1.5"/><path vector-effect="non-scaling-stroke" transform="matrix(4.0151,0,0.9924,-3.7037,241.71,0)" d="M0,10 L0,2.5 Q0,0 2.5,0 L3.5,0 Q6,0 6,2.5 M6,10 L6,0"/><path vector-effect="non-scaling-stroke" transform="matrix(4.0151,0,0.9924,-3.7037,276.24,0)" d="M0,0 L0,10 L6,10 Q8,10 8,8 L8,0 M4,0 L4,10"/><path vector-effect="non-scaling-stroke" transform="matrix(4.0151,0,0.9924,-3.7037,318.80,0)" d="M6,0 L2.5,0 Q0,0 0,2.5 L0,7.5 Q0,10 2.5,10 L3.5,10 Q6,10 6,7.5 L6,5 L0,5"/><path vector-effect="non-scaling-stroke" transform="matrix(4.0151,0,0.9924,-3.7037,353.33,0)" d="M0,0 L3.5,10 L6,10 L6,0"/><path vector-effect="non-scaling-stroke" transform="matrix(4.0151,0,0.9924,-3.7037,387.86,0)" d="M0,10 L0,0 L3.5,0 Q6,0 6,2.5 L6,3 Q6,5.5 3.5,5.5 L0,5.5"/><path vector-effect="non-scaling-stroke" transform="matrix(4.0151,0,0.9924,-3.7037,422.39,0)" d="M0,0 L0,10 M0,5 L6,5 M6,0 L6,10"/><path vector-effect="non-scaling-stroke" transform="matrix(4.0151,0,0.9924,-3.7037,456.92,0)" d="M6,10 L2.5,10 Q0,10 0,7.5 L0,2.5 Q0,0 2.5,0 L3.5,0 Q6,0 6,2.5 M6,10 L6,1 Q6,0 6.6,-0.2"/><path vector-effect="non-scaling-stroke" transform="matrix(4.0151,0,0.9924,-3.7037,492.66,0)" d="M6,0 L6,10 L2.5,10 Q0,10 0,7.5 L0,7.5 Q0,5 2.5,5 L6,5 M3,5 L0,0"/><path vector-effect="non-scaling-stroke" transform="matrix(4.0151,0,0.9924,-3.7037,551.68,0)" d="M0,0 L0,10 L3.5,3.5 L7,10 L7,0"/><path vector-effect="non-scaling-stroke" transform="matrix(4.0151,0,0.9924,-3.7037,590.22,0)" d="M6,10 L2.5,10 Q0,10 0,7.5 L0,2.5 Q0,0 2.5,0 L3.5,0 Q6,0 6,2.5 M6,10 L6,1 Q6,0 6.6,-0.2"/><path vector-effect="non-scaling-stroke" transform="matrix(4.0151,0,0.9924,-3.7037,625.96,0)" d="M6,10 L2.5,10 Q0,10 0,7.5 L0,2.5 Q0,0 2.5,0 L6,0"/><path vector-effect="non-scaling-stroke" transform="matrix(4.0151,0,0.9924,-3.7037,660.49,0)" d="M6,10 L2.5,10 Q0,10 0,7.5 L0,2.5 Q0,0 2.5,0 L6,0"/><path vector-effect="non-scaling-stroke" transform="matrix(4.0151,0,0.9924,-3.7037,695.02,0)" d="M6,10 L2.5,10 Q0,10 0,7.5 L0,2.5 Q0,0 2.5,0 L3.5,0 Q6,0 6,2.5 M6,10 L6,1 Q6,0 6.6,-0.2"/><path vector-effect="non-scaling-stroke" transform="matrix(4.0151,0,0.9924,-3.7037,730.75,0)" d="M0.5,0.3 L0.5,0.31 M1,7 L1,7.01"/><path vector-effect="non-scaling-stroke" transform="matrix(4.0151,0,0.9924,-3.7037,769.70,0)" d="M0,11.5 Q0.3,14 3,14 Q6,14 6,11 Q6,9 4,7 L0,0 L6,0"/><path vector-effect="non-scaling-stroke" transform="matrix(4.0151,0,0.9924,-3.7037,804.23,0)" d="M3,0 L3,0 Q6,0 6,3 L6,11 Q6,14 3,14 L3,14 Q0,14 0,11 L0,3 Q0,0 3,0 Z"/><path vector-effect="non-scaling-stroke" transform="matrix(4.0151,0,0.9924,-3.7037,838.76,0)" d="M3,0 L3,0 Q6,0 6,3 L6,11 Q6,14 3,14 L3,14 Q0,14 0,11 L0,3 Q0,0 3,0 Z"/><path vector-effect="non-scaling-stroke" transform="matrix(4.0151,0,0.9924,-3.7037,897.78,0)" d="M0,0 L0,10 M5.5,10 L0,4 M1.8,6 L6,0"/><path vector-effect="non-scaling-stroke" transform="matrix(4.0151,0,0.9924,-3.7037,932.31,0)" d="M0,8 Q0.3,10 3,10 Q6,10 6,8 Q6,6.5 4,5 L0,0 L6,0"/><path vector-effect="non-scaling-stroke" transform="matrix(4.0151,0,0.9924,-3.7037,966.84,0)" d="M0.5,0.3 L0.5,0.31"/></g>
<g transform="translate(2823.9,2522.9)" stroke="#000" fill="none" stroke-width="4.15" stroke-linecap="round" stroke-linejoin="round"><path vector-effect="non-scaling-stroke" transform="matrix(3.7037,0,0.9924,-3.7037,-0.00,0)" d="M4.6,14 L0,4 L6.5,4 M4.9,8.2 L4.9,0"/></g>
<g transform="translate(2890.1,2522.9)" stroke="#000" fill="none" stroke-width="4.15" stroke-linecap="round" stroke-linejoin="round"><path vector-effect="non-scaling-stroke" transform="matrix(3.9746,0,0.9924,-3.7037,-0.00,0)" d="M0,0 L0,14 L3.75,5 L7.5,14 L7.5,0"/><path vector-effect="non-scaling-stroke" transform="matrix(3.9746,0,0.9924,-3.7037,40.14,0)" d="M2.5,0 L3.5,0 Q6,0 6,2.5 L6,7.5 Q6,10 3.5,10 L2.5,10 Q0,10 0,7.5 L0,2.5 Q0,0 2.5,0 Z"/><path vector-effect="non-scaling-stroke" transform="matrix(3.9746,0,0.9924,-3.7037,74.33,0)" d="M0,0 L0,10 M0,5 L6,5 M6,0 L6,10"/><path vector-effect="non-scaling-stroke" transform="matrix(3.9746,0,0.9924,-3.7037,108.51,0)" d="M0,0 L0,10 L6,10 Q8,10 8,8 L8,0 M4,0 L4,10"/><path vector-effect="non-scaling-stroke" transform="matrix(3.9746,0,0.9924,-3.7037,150.64,0)" d="M6,10 L2.5,10 Q0,10 0,7.5 L0,2.5 Q0,0 2.5,0 L3.5,0 Q6,0 6,2.5 M6,10 L6,1 Q6,0 6.6,-0.2"/><path vector-effect="non-scaling-stroke" transform="matrix(3.9746,0,0.9924,-3.7037,186.01,0)" d="M0,0 L3,5 L0,10 M4,0 L4,10 M8,0 L5,5 L8,10 M3,5 L5,5"/><path vector-effect="non-scaling-stroke" transform="matrix(3.9746,0,0.9924,-3.7037,228.14,0)" d="M0.5,0.3 L0.5,0.31 M1,7 L1,7.01"/><path vector-effect="non-scaling-stroke" transform="matrix(3.9746,0,0.9924,-3.7037,266.70,0)" d="M6.5,14 L3,14 L1,12 L0,9 L0,2.5 Q0,0 2.5,0 L3.5,0 Q6,0 6,2.5 L6,7.5 Q6,10 3.5,10 L0,10"/><path vector-effect="non-scaling-stroke" transform="matrix(3.9746,0,0.9924,-3.7037,300.88,0)" d="M6,0 L2.5,0 Q0,0 0,2.5 L0,7.5 Q0,10 2.5,10 L3.5,10 Q6,10 6,7.5 L6,5 L0,5"/><path vector-effect="non-scaling-stroke" transform="matrix(3.9746,0,0.9924,-3.7037,335.06,0)" d="M0,0 L0,10 L6,10 Q8,10 8,8 L8,0 M4,0 L4,10"/><path vector-effect="non-scaling-stroke" transform="matrix(3.9746,0,0.9924,-3.7037,377.19,0)" d="M2.5,0 L3.5,0 Q6,0 6,2.5 L6,7.5 Q6,10 3.5,10 L2.5,10 Q0,10 0,7.5 L0,2.5 Q0,0 2.5,0 Z"/><path vector-effect="non-scaling-stroke" transform="matrix(3.9746,0,0.9924,-3.7037,411.37,0)" d="M0,0 L0,10 M0,5 L6,5 M6,0 L6,10"/><path vector-effect="non-scaling-stroke" transform="matrix(3.9746,0,0.9924,-3.7037,445.56,0)" d="M0,10 L0,2.5 Q0,0 2.5,0 L3.5,0 Q6,0 6,2.5 M6,10 L6,0"/><path vector-effect="non-scaling-stroke" transform="matrix(3.9746,0,0.9924,-3.7037,479.74,0)" d="M0,-4 L0,10 L3.5,10 Q6,10 6,7.5 L6,2.5 Q6,0 3.5,0 L0,0"/><path vector-effect="non-scaling-stroke" transform="matrix(3.9746,0,0.9924,-3.7037,513.92,0)" d="M2.5,0 L3.5,0 Q6,0 6,2.5 L6,7.5 Q6,10 3.5,10 L2.5,10 Q0,10 0,7.5 L0,2.5 Q0,0 2.5,0 Z"/><path vector-effect="non-scaling-stroke" transform="matrix(3.9746,0,0.9924,-3.7037,548.10,0)" d="M0,9 L0,2.5 Q0,0 2.5,0 L3.5,0 Q6,0 6,2.5 L6,3.5 Q6,6 3.5,6 L2,6 L5,10.5 Q5.5,14 2.5,14 Q0,14 0,11 L0,9"/><path vector-effect="non-scaling-stroke" transform="matrix(3.9746,0,0.9924,-3.7037,582.28,0)" d="M6,10 L2.5,10 Q0,10 0,7.5 L0,2.5 Q0,0 2.5,0 L3.5,0 Q6,0 6,2.5 M6,10 L6,1 Q6,0 6.6,-0.2"/><path vector-effect="non-scaling-stroke" transform="matrix(3.9746,0,0.9924,-3.7037,617.66,0)" d="M0,0 L0,10 M0,5 L6,5 M6,0 L6,10"/><path vector-effect="non-scaling-stroke" transform="matrix(3.9746,0,0.9924,-3.7037,651.84,0)" d="M0,10 L0,2.5 Q0,0 2.5,0 L3.5,0 Q6,0 6,2.5 M6,10 L6,0"/><path vector-effect="non-scaling-stroke" transform="matrix(3.9746,0,0.9924,-3.7037,686.02,0)" d="M6,0 L2.5,0 Q0,0 0,2.5 L0,7.5 Q0,10 2.5,10 L3.5,10 Q6,10 6,7.5 L6,5 L0,5"/><path vector-effect="non-scaling-stroke" transform="matrix(3.9746,0,0.9924,-3.7037,744.45,0)" d="M0,8.5 Q0.5,10 3,10 Q6,10 6,7.5 Q6,5 3,5 L2,5 M3,5 Q6,5 6,2.5 Q6,0 3,0 Q0.5,0 0,1.5"/><path vector-effect="non-scaling-stroke" transform="matrix(3.9746,0,0.9924,-3.7037,778.63,0)" d="M6,10 L2.5,10 Q0,10 0,7.5 L0,2.5 Q0,0 2.5,0 L3.5,0 Q6,0 6,2.5 M6,10 L6,1 Q6,0 6.6,-0.2"/><path vector-effect="non-scaling-stroke" transform="matrix(3.9746,0,0.9924,-3.7037,814.00,0)" d="M0,0 L0,10 M5.5,10 L0,4 M1.8,6 L6,0"/><path vector-effect="non-scaling-stroke" transform="matrix(3.9746,0,0.9924,-3.7037,848.18,0)" d="M0,0 L3.5,10 L6,10 L6,0"/><path vector-effect="non-scaling-stroke" transform="matrix(3.9746,0,0.9924,-3.7037,882.37,0)" d="M6,10 L2.5,10 Q0,10 0,7.5 L0,2.5 Q0,0 2.5,0 L3.5,0 Q6,0 6,2.5 M6,10 L6,1 Q6,0 6.6,-0.2"/><path vector-effect="non-scaling-stroke" transform="matrix(3.9746,0,0.9924,-3.7037,917.74,0)" d="M0,2.5 Q0,0 2.5,0 L3.5,0 Q6,0 6,2.5 L6,7.5 Q6,10 3.5,10 L2.5,10 Q0,10 0,7.5 L0,2.5 M6,7.5 L6,11 Q6,14 3,14 L1,14"/><path vector-effect="non-scaling-stroke" transform="matrix(3.9746,0,0.9924,-3.7037,951.92,0)" d="M0,0 L0,10 M0,5 L6,5 M6,0 L6,10"/><path vector-effect="non-scaling-stroke" transform="matrix(3.9746,0,0.9924,-3.7037,986.10,0)" d="M0,10 L0,0 L2.5,0 Q5,0 5,2.5 L5,3 Q5,5.5 2.5,5.5 L0,5.5 M8,0 L8,10"/><path vector-effect="non-scaling-stroke" transform="matrix(3.9746,0,0.9924,-3.7037,1028.24,0)" d="M0,0 L6,10 M0,10 L6,0"/><path vector-effect="non-scaling-stroke" transform="matrix(3.9746,0,0.9924,-3.7037,1086.66,0)" d="M0,9 L0,2.5 Q0,0 2.5,0 L3.5,0 Q6,0 6,2.5 L6,3.5 Q6,6 3.5,6 L2,6 L5,10.5 Q5.5,14 2.5,14 Q0,14 0,11 L0,9"/><path vector-effect="non-scaling-stroke" transform="matrix(3.9746,0,0.9924,-3.7037,1145.09,0)" d="M0,0 L0,10 L6,10 Q8,10 8,8 L8,0 M4,0 L4,10"/><path vector-effect="non-scaling-stroke" transform="matrix(3.9746,0,0.9924,-3.7037,1187.22,0)" d="M0,9 L0,2.5 Q0,0 2.5,0 L3.5,0 Q6,0 6,2.5 L6,3.5 Q6,6 3.5,6 L2,6 L5,10.5 Q5.5,14 2.5,14 Q0,14 0,11 L0,9"/><path vector-effect="non-scaling-stroke" transform="matrix(3.9746,0,0.9924,-3.7037,1221.40,0)" d="M6,0 L2.5,0 Q0,0 0,2.5 L0,7.5 Q0,10 2.5,10 L3.5,10 Q6,10 6,7.5 L6,5 L0,5"/><path vector-effect="non-scaling-stroke" transform="matrix(3.9746,0,0.9924,-3.7037,1255.58,0)" d="M0,-4 L0,10 L3.5,10 Q6,10 6,7.5 L6,2.5 Q6,0 3.5,0 L0,0"/><path vector-effect="non-scaling-stroke" transform="matrix(3.9746,0,0.9924,-3.7037,1289.77,0)" d="M0,2.5 Q0,0 2.5,0 L3.5,0 Q6,0 6,2.5 L6,7.5 Q6,10 3.5,10 L2.5,10 Q0,10 0,7.5 L0,2.5 M6,7.5 L6,11 Q6,14 3,14 L1,14"/><path vector-effect="non-scaling-stroke" transform="matrix(3.9746,0,0.9924,-3.7037,1323.95,0)" d="M0,10 L0,0 L2.5,0 Q5,0 5,2.5 L5,3 Q5,5.5 2.5,5.5 L0,5.5 M8,0 L8,10"/><path vector-effect="non-scaling-stroke" transform="matrix(3.9746,0,0.9924,-3.7037,1366.08,0)" d="M0,10 L0,2.5 Q0,0 2.5,0 L3.5,0 Q6,0 6,2.5 M6,10 L6,0 M1.5,12.5 L4.5,12.5"/></g>
<g transform="translate(2890.1,2602.9)" stroke="#000" fill="none" stroke-width="4.15" stroke-linecap="round" stroke-linejoin="round"><path vector-effect="non-scaling-stroke" transform="matrix(3.9806,0,0.9924,-3.7037,-0.00,0)" d="M0,8 Q0.3,10 3,10 Q6,10 6,8 Q6,6.5 4,5 L0,0 L6,0"/><path vector-effect="non-scaling-stroke" transform="matrix(3.9806,0,0.9924,-3.7037,34.23,0)" d="M0,-4 L0,10 L3.5,10 Q6,10 6,7.5 L6,2.5 Q6,0 3.5,0 L0,0"/><path vector-effect="non-scaling-stroke" transform="matrix(3.9806,0,0.9924,-3.7037,68.47,0)" d="M0,10 L0,2.5 Q0,0 2.5,0 L6,0 M6,10 L6,-1.5 Q6,-4 3.5,-4 L1,-4"/><path vector-effect="non-scaling-stroke" transform="matrix(3.9806,0,0.9924,-3.7037,102.70,0)" d="M0,0 L0,10 M0,5 L6,5 M6,0 L6,10"/><path vector-effect="non-scaling-stroke" transform="matrix(3.9806,0,0.9924,-3.7037,136.93,0)" d="M0,0 L0,10 L6,10 Q8,10 8,8 L8,0 M4,0 L4,10"/><path vector-effect="non-scaling-stroke" transform="matrix(3.9806,0,0.9924,-3.7037,203.41,0)" d="M0,0 L0,10 M0,5 L6,5 M6,0 L6,10"/><path vector-effect="non-scaling-stroke" transform="matrix(3.9806,0,0.9924,-3.7037,237.64,0)" d="M6,10 L2.5,10 Q0,10 0,7.5 L0,2.5 Q0,0 2.5,0 L3.5,0 Q6,0 6,2.5 M6,10 L6,1 Q6,0 6.6,-0.2"/><path vector-effect="non-scaling-stroke" transform="matrix(3.9806,0,0.9924,-3.7037,297.35,0)" d="M0,8 Q0.3,10 3,10 Q6,10 6,8 Q6,6.5 4,5 L0,0 L6,0"/><path vector-effect="non-scaling-stroke" transform="matrix(3.9806,0,0.9924,-3.7037,331.58,0)" d="M0,0 L3.5,10 L6,10 L6,0"/><path vector-effect="non-scaling-stroke" transform="matrix(3.9806,0,0.9924,-3.7037,365.82,0)" d="M0,10 L0,2.5 Q0,0 2.5,0 L6,0 M6,10 L6,-1.5 Q6,-4 3.5,-4 L1,-4"/><path vector-effect="non-scaling-stroke" transform="matrix(3.9806,0,0.9924,-3.7037,400.05,0)" d="M6.5,14 L3,14 L1,12 L0,9 L0,2.5 Q0,0 2.5,0 L3.5,0 Q6,0 6,2.5 L6,7.5 Q6,10 3.5,10 L0,10"/><path vector-effect="non-scaling-stroke" transform="matrix(3.9806,0,0.9924,-3.7037,434.28,0)" d="M0,10 L0,2.5 Q0,0 2.5,0 L3.5,0 Q6,0 6,2.5 M6,10 L6,0"/><path vector-effect="non-scaling-stroke" transform="matrix(3.9806,0,0.9924,-3.7037,468.52,0)" d="M0,0 L0,10 M0,5 L6,5 M6,0 L6,10"/><path vector-effect="non-scaling-stroke" transform="matrix(3.9806,0,0.9924,-3.7037,502.75,0)" d="M0,10 L0,2.5 Q0,0 2.5,0 L6,0 M6,10 L6,-1.5 Q6,-4 3.5,-4 L1,-4"/><path vector-effect="non-scaling-stroke" transform="matrix(3.9806,0,0.9924,-3.7037,561.27,0)" d="M3,0 L3,0 Q6,0 6,3 L6,11 Q6,14 3,14 L3,14 Q0,14 0,11 L0,3 Q0,0 3,0 Z"/><path vector-effect="non-scaling-stroke" transform="matrix(3.9806,0,0.9924,-3.7037,595.50,0)" d="M0.5,0.3 L0.5,0.31"/><path vector-effect="non-scaling-stroke" transform="matrix(3.9806,0,0.9924,-3.7037,609.83,0)" d="M3,8 Q0.5,8 0.5,11 Q0.5,14 3,14 Q5.5,14 5.5,11 Q5.5,8 3,8 Q0,8 0,4.5 L0,3 Q0,0 3,0 Q6,0 6,3 L6,4.5 Q6,8 3,8 Z"/><path vector-effect="non-scaling-stroke" transform="matrix(3.9806,0,0.9924,-3.7037,644.06,0)" d="M0,0 L0,10 L3.5,3.5 L7,10 L7,0"/></g>
<g transform="translate(2823.9,2679.6)" stroke="#000" fill="none" stroke-width="4.15" stroke-linecap="round" stroke-linejoin="round"><path vector-effect="non-scaling-stroke" transform="matrix(3.7037,0,0.9924,-3.7037,-0.00,0)" d="M6,14 L1,14 L0.6,8.2 L3,8.2 Q6,8.2 6,5 L6,3 Q6,0 3,0 L0,0"/></g>
<g transform="translate(2890.1,2679.6)" stroke="#000" fill="none" stroke-width="4.15" stroke-linecap="round" stroke-linejoin="round"><path vector-effect="non-scaling-stroke" transform="matrix(4.0033,0,0.9924,-3.7037,-0.00,0)" d="M0,12 Q0.5,14 3,14 Q6,14 6,11 Q6,8 3,8 L2,8 M3,8 Q6,8 6,4.5 L6,3 Q6,0 3,0 Q0.5,0 0,2"/><path vector-effect="non-scaling-stroke" transform="matrix(4.0033,0,0.9924,-3.7037,34.43,0)" d="M2.5,0 L3.5,0 Q6,0 6,2.5 L6,7.5 Q6,10 3.5,10 L2.5,10 Q0,10 0,7.5 L0,2.5 Q0,0 2.5,0 Z"/><path vector-effect="non-scaling-stroke" transform="matrix(4.0033,0,0.9924,-3.7037,68.86,0)" d="M0,0 L0,10 M0,5 L6,5 M6,0 L6,10"/><path vector-effect="non-scaling-stroke" transform="matrix(4.0033,0,0.9924,-3.7037,103.28,0)" d="M6,10 L2.5,10 Q0,10 0,7.5 L0,2.5 Q0,0 2.5,0 L3.5,0 Q6,0 6,2.5 M6,10 L6,1 Q6,0 6.6,-0.2"/><path vector-effect="non-scaling-stroke" transform="matrix(4.0033,0,0.9924,-3.7037,163.33,0)" d="M6.5,14 L3,14 L1,12 L0,9 L0,2.5 Q0,0 2.5,0 L3.5,0 Q6,0 6,2.5 L6,7.5 Q6,10 3.5,10 L0,10"/><path vector-effect="non-scaling-stroke" transform="matrix(4.0033,0,0.9924,-3.7037,197.76,0)" d="M6,0 L2.5,0 Q0,0 0,2.5 L0,7.5 Q0,10 2.5,10 L3.5,10 Q6,10 6,7.5 L6,5 L0,5"/><path vector-effect="non-scaling-stroke" transform="matrix(4.0033,0,0.9924,-3.7037,232.19,0)" d="M0,8.5 Q0.5,10 3,10 Q6,10 6,7.5 Q6,5 3,5 L2,5 M3,5 Q6,5 6,2.5 Q6,0 3,0 Q0.5,0 0,1.5"/><path vector-effect="non-scaling-stroke" transform="matrix(4.0033,0,0.9924,-3.7037,266.62,0)" d="M2.5,0 L3.5,0 Q6,0 6,2.5 L6,7.5 Q6,10 3.5,10 L2.5,10 Q0,10 0,7.5 L0,2.5 Q0,0 2.5,0 Z"/><path vector-effect="non-scaling-stroke" transform="matrix(4.0033,0,0.9924,-3.7037,301.05,0)" d="M0,0 L0,10 L3.5,10 Q6,10 6,7.5 L6,0"/><path vector-effect="non-scaling-stroke" transform="matrix(4.0033,0,0.9924,-3.7037,335.47,0)" d="M6,10 L2.5,10 Q0,10 0,7.5 L0,2.5 Q0,0 2.5,0 L3.5,0 Q6,0 6,2.5 M6,10 L6,1 Q6,0 6.6,-0.2"/><path vector-effect="non-scaling-stroke" transform="matrix(4.0033,0,0.9924,-3.7037,371.10,0)" d="M6,10 L2.5,10 Q0,10 0,7.5 L0,2.5 Q0,0 2.5,0 L6,0"/><path vector-effect="non-scaling-stroke" transform="matrix(4.0033,0,0.9924,-3.7037,405.53,0)" d="M0,0 L0,10 M0,5 L6,5 M6,0 L6,10"/><path vector-effect="non-scaling-stroke" transform="matrix(4.0033,0,0.9924,-3.7037,439.96,0)" d="M2.5,0 L3.5,0 Q6,0 6,2.5 L6,7.5 Q6,10 3.5,10 L2.5,10 Q0,10 0,7.5 L0,2.5 Q0,0 2.5,0 Z"/><path vector-effect="non-scaling-stroke" transform="matrix(4.0033,0,0.9924,-3.7037,474.39,0)" d="M6,10 L2.5,10 Q0,10 0,7.5 L0,2.5 Q0,0 2.5,0 L6,0"/><path vector-effect="non-scaling-stroke" transform="matrix(4.0033,0,0.9924,-3.7037,508.82,0)" d="M0,0 L0,10 L6,10 Q8,10 8,8 L8,0 M4,0 L4,10"/><path vector-effect="non-scaling-stroke" transform="matrix(4.0033,0,0.9924,-3.7037,551.25,0)" d="M0,10 L0,2.5 Q0,0 2.5,0 L3.5,0 Q6,0 6,2.5 M6,10 L6,0"/><path vector-effect="non-scaling-stroke" transform="matrix(4.0033,0,0.9924,-3.7037,585.68,0)" d="M0.5,0.3 L0.5,0.31 M1,7 L1,7.01"/><path vector-effect="non-scaling-stroke" transform="matrix(4.0033,0,0.9924,-3.7037,624.51,0)" d="M0,14 L6,14 L1.5,0"/><path vector-effect="non-scaling-stroke" transform="matrix(4.0033,0,0.9924,-3.7037,658.94,0)" d="M0.5,0.3 L0.5,0.31"/><path vector-effect="non-scaling-stroke" transform="matrix(4.0033,0,0.9924,-3.7037,673.35,0)" d="M3,0 L3,0 Q6,0 6,3 L6,11 Q6,14 3,14 L3,14 Q0,14 0,11 L0,3 Q0,0 3,0 Z"/><path vector-effect="non-scaling-stroke" transform="matrix(4.0033,0,0.9924,-3.7037,707.78,0)" d="M3,8 Q0.5,8 0.5,11 Q0.5,14 3,14 Q5.5,14 5.5,11 Q5.5,8 3,8 Q0,8 0,4.5 L0,3 Q0,0 3,0 Q6,0 6,3 L6,4.5 Q6,8 3,8 Z"/><path vector-effect="non-scaling-stroke" transform="matrix(4.0033,0,0.9924,-3.7037,742.21,0)" d="M0,0 L6,10 M0,10 L6,0"/><path vector-effect="non-scaling-stroke" transform="matrix(4.0033,0,0.9924,-3.7037,776.63,0)" d="M6,14 L1,14 L0.6,8.2 L3,8.2 Q6,8.2 6,5 L6,3 Q6,0 3,0 L0,0"/><path vector-effect="non-scaling-stroke" transform="matrix(4.0033,0,0.9924,-3.7037,811.06,0)" d="M0.5,0.3 L0.5,0.31"/><path vector-effect="non-scaling-stroke" transform="matrix(4.0033,0,0.9924,-3.7037,825.47,0)" d="M0.5,0 Q6,0 6,6 L6,11 Q6,14 3,14 Q0,14 0,11 L0,9 Q0,6 3,6 Q6,6 6,9"/><path vector-effect="non-scaling-stroke" transform="matrix(4.0033,0,0.9924,-3.7037,859.90,0)" d="M0,0 L0,10 L3.5,3.5 L7,10 L7,0"/></g>
<g transform="translate(4380.1,3378.1)" stroke="#000" fill="none" stroke-width="4.22" stroke-linecap="round" stroke-linejoin="round"><path vector-effect="non-scaling-stroke" transform="matrix(4.1686,0,1.0101,-3.7698,-0.00,0)" d="M3,0 L3,0 Q6,0 6,3 L6,11 Q6,14 3,14 L3,14 Q0,14 0,11 L0,3 Q0,0 3,0 Z"/><path vector-effect="non-scaling-stroke" transform="matrix(4.1686,0,1.0101,-3.7698,35.85,0)" d="M3,0 L3,0 Q6,0 6,3 L6,11 Q6,14 3,14 L3,14 Q0,14 0,11 L0,3 Q0,0 3,0 Z"/><path vector-effect="non-scaling-stroke" transform="matrix(4.1686,0,1.0101,-3.7698,71.70,0)" d="M3,0 L3,0 Q6,0 6,3 L6,11 Q6,14 3,14 L3,14 Q0,14 0,11 L0,3 Q0,0 3,0 Z"/><path vector-effect="non-scaling-stroke" transform="matrix(4.1686,0,1.0101,-3.7698,132.98,0)" d="M1.5,14 L0.5,11 M4,14 L3,11"/><path vector-effect="non-scaling-stroke" transform="matrix(4.1686,0,1.0101,-3.7698,156.32,0)" d="M0,0 L0,14 L6,14"/><path vector-effect="non-scaling-stroke" transform="matrix(4.1686,0,1.0101,-3.7698,192.17,0)" d="M6,14 L0,14 L0,0 L6,0 M0,7 L5,7"/><path vector-effect="non-scaling-stroke" transform="matrix(4.1686,0,1.0101,-3.7698,228.03,0)" d="M0,0 L0,14 L3.5,14 Q6,14 6,11 L6,10 Q6,7 3.5,7 L0,7"/><path vector-effect="non-scaling-stroke" transform="matrix(4.1686,0,1.0101,-3.7698,263.88,0)" d="M0,0 L0,14 M6,14 L0,6 M2,8.5 L6,0"/><path vector-effect="non-scaling-stroke" transform="matrix(4.1686,0,1.0101,-3.7698,299.73,0)" d="M0,14 L0,9.5 Q0,7 2.5,7 L6,7 M6,14 L6,3 Q6,0 3,0 L1,0"/><path vector-effect="non-scaling-stroke" transform="matrix(4.1686,0,1.0101,-3.7698,335.58,0)" d="M0,0 L4.5,14 L6,14 L6,0"/><path vector-effect="non-scaling-stroke" transform="matrix(4.1686,0,1.0101,-3.7698,371.43,0)" d="M6,14 L0,14 L0,0 L6,0 M0,7 L5,7"/><path vector-effect="non-scaling-stroke" transform="matrix(4.1686,0,1.0101,-3.7698,407.28,0)" d="M6,14 L3,14 Q0,14 0,11 L0,3 Q0,0 3,0 L6,0"/><path vector-effect="non-scaling-stroke" transform="matrix(4.1686,0,1.0101,-3.7698,443.13,0)" d="M1.5,14 L0.5,11 M4,14 L3,11"/></g>
<path d="M3998,1003.6 C4030,1050 4062,1110 4079.4,1163.4 C4098,1220 4122,1300 4133.6,1355.9 C4152,1440 4170,1600 4175.8,1742" fill="none" stroke-width="4" />
<path d="M3998,1030.6 C4025,1075 4048,1120 4061.8,1163.4 C4082,1220 4108,1300 4122.8,1355.9 C4140,1440 4160,1600 4164.2,1747" fill="none" stroke-width="2.2" stroke="#8a8a8a"/>
<path d="M3998,1044.2 C4020,1090 4050,1150 4068.6,1206.8" fill="none" stroke-width="4.5" />
<path d="M3998,1242 C4010,1222 4030,1200 4049.6,1197.3 Q4060,1197 4063.2,1200" fill="none" stroke-width="4" />
<path d="M4059,1201.4 C4078,1250 4096,1310 4103.8,1355.9 C4118,1440 4138,1600 4143.5,1732" fill="none" stroke-width="4" />
<path d="M3998,1166.2 L4032,1149.9 L4032,1187.8 L3998,1204 Z" fill="#000" stroke="none"/>
<line x1="3595.0" y1="322.0" x2="3595.0" y2="1640.4" stroke-width="4" stroke-linecap="butt"/>
<line x1="3615.5" y1="336.0" x2="3615.5" y2="1653.4" stroke-width="1.6" stroke="#8a8a8a" stroke-linecap="butt"/>
<line x1="3620.0" y1="336.0" x2="3620.0" y2="1474.0" stroke-width="4.5" stroke-linecap="butt"/>
<line x1="3637.9" y1="1483.4" x2="3637.9" y2="1641.4" stroke-width="4" stroke-linecap="butt"/>
<path d="M3594,1640.4 L3616.7,1653.4 L3637.9,1640.4" fill="none" stroke-width="4" />
<path d="M3592.6,321.9 L3616.7,306.5 L3639.4,321.3 L3616,336 Z" fill="none" stroke-width="3.2" />
<path d="M3597,322.5 L3616.5,334 L3636,322.5" fill="none" stroke-width="2.5" stroke="#8a8a8a"/>
<line x1="3953.6" y1="528.3" x2="3953.6" y2="1848.2" stroke-width="3.5" stroke-linecap="butt"/>
<line x1="3976.0" y1="541.9" x2="3976.0" y2="1861.0" stroke-width="2.2" stroke="#8a8a8a" stroke-linecap="butt"/>
<line x1="3997.6" y1="527.7" x2="3997.6" y2="1848.2" stroke-width="3.8" stroke-linecap="butt"/>
<path d="M3953.6,1848.2 L3976,1861 L3997,1848.2" fill="none" stroke-width="4" />
<path d="M3953.9,528.3 L3975.4,514.8 L3998.2,527.7 L3975.4,541.9 Z" fill="none" stroke-width="3.2" />
<path d="M3958,529 L3975.4,539.5 L3994,529" fill="none" stroke-width="2.5" stroke="#8a8a8a"/>
<line x1="3636.4" y1="328.6" x2="3966.0" y2="516.7" stroke-width="3.2" />
<line x1="3621.6" y1="335.4" x2="3953.0" y2="526.5" stroke-width="7" />
<line x1="3620.0" y1="1474.0" x2="3953.6" y2="1664.0" stroke-width="4.5" stroke-linecap="butt"/>
<path d="M3620,911.4 L3658.0,933.0 C3665.8,937.5 3656.7,919.4 3664.5,923.9 L3697.6,942.9 C3705.4,947.4 3698.2,956.5 3706.0,961.0 L3740.7,981.0 C3748.5,985.5 3740.2,968.2 3748.0,972.7 L3781.2,991.7 C3789.0,996.2 3780.9,1003.8 3788.7,1008.3 L3824.3,1029.0 C3832.1,1033.5 3823.9,1016.2 3831.7,1020.7 L3864.8,1039.7 C3872.6,1044.2 3865.2,1051.8 3873.0,1056.3 L3907.8,1077.0 C3915.6,1081.5 3906.7,1064.2 3914.5,1068.7 L3953,1089.4" fill="none" stroke-width="4.5" stroke-linejoin="round"/>
<circle cx="3629.0" cy="347.3" r="4.2" fill="#000" stroke="none"/>
<circle cx="3733.7" cy="407.7" r="4.2" fill="#000" stroke="none"/>
<circle cx="3838.9" cy="468.5" r="4.2" fill="#000" stroke="none"/>
<circle cx="3943.7" cy="528.9" r="4.2" fill="#000" stroke="none"/>
<circle cx="3629.0" cy="633.5" r="4.2" fill="#000" stroke="none"/>
<circle cx="3733.7" cy="693.9" r="4.2" fill="#000" stroke="none"/>
<circle cx="3838.9" cy="754.7" r="4.2" fill="#000" stroke="none"/>
<circle cx="3943.7" cy="815.1" r="4.2" fill="#000" stroke="none"/>
<circle cx="3629.0" cy="1186.8" r="4.2" fill="#000" stroke="none"/>
<circle cx="3733.7" cy="1247.3" r="4.2" fill="#000" stroke="none"/>
<circle cx="3838.9" cy="1308.0" r="4.2" fill="#000" stroke="none"/>
<circle cx="3943.7" cy="1368.5" r="4.2" fill="#000" stroke="none"/>
<circle cx="3629.0" cy="1472.8" r="4.2" fill="#000" stroke="none"/>
<circle cx="3733.7" cy="1533.2" r="4.2" fill="#000" stroke="none"/>
<circle cx="3838.9" cy="1594.0" r="4.2" fill="#000" stroke="none"/>
<circle cx="3943.7" cy="1654.4" r="4.2" fill="#000" stroke="none"/>
<circle cx="3641.4" cy="917.5" r="4.2" fill="#000" stroke="none"/>
<circle cx="3682.9" cy="941.4" r="4.2" fill="#000" stroke="none"/>
<circle cx="3724.3" cy="965.3" r="4.2" fill="#000" stroke="none"/>
<circle cx="3765.8" cy="989.3" r="4.2" fill="#000" stroke="none"/>
<circle cx="3807.3" cy="1013.2" r="4.2" fill="#000" stroke="none"/>
<circle cx="3848.8" cy="1037.1" r="4.2" fill="#000" stroke="none"/>
<circle cx="3890.2" cy="1061.1" r="4.2" fill="#000" stroke="none"/>
<circle cx="3931.7" cy="1085.0" r="4.2" fill="#000" stroke="none"/>
<ellipse cx="3987.7" cy="557.3" rx="8" ry="9" fill="#000" stroke="none"/>
<path d="M3985,561.3 Q3986,554.3 3990,553.3" stroke="#fff" stroke-width="1.6"/>
<ellipse cx="3987.7" cy="570.7" rx="8" ry="9" fill="#000" stroke="none"/>
<path d="M3985,574.7 Q3986,567.7 3990,566.7" stroke="#fff" stroke-width="1.6"/>
<ellipse cx="3987.7" cy="808.9" rx="8" ry="9" fill="#000" stroke="none"/>
<path d="M3985,812.9 Q3986,805.9 3990,804.9" stroke="#fff" stroke-width="1.6"/>
<ellipse cx="3987.7" cy="844.2" rx="8" ry="9" fill="#000" stroke="none"/>
<path d="M3985,848.2 Q3986,841.2 3990,840.2" stroke="#fff" stroke-width="1.6"/>
<ellipse cx="3987.7" cy="1084.7" rx="8" ry="9" fill="#000" stroke="none"/>
<path d="M3985,1088.7 Q3986,1081.7 3990,1080.7" stroke="#fff" stroke-width="1.6"/>
<ellipse cx="3987.7" cy="1121.0" rx="8" ry="9" fill="#000" stroke="none"/>
<path d="M3985,1125.0 Q3986,1118.0 3990,1117.0" stroke="#fff" stroke-width="1.6"/>
<ellipse cx="3987.7" cy="1361.6" rx="8" ry="9" fill="#000" stroke="none"/>
<path d="M3985,1365.6 Q3986,1358.6 3990,1357.6" stroke="#fff" stroke-width="1.6"/>
<ellipse cx="3987.7" cy="1397.3" rx="8" ry="9" fill="#000" stroke="none"/>
<path d="M3985,1401.3 Q3986,1394.3 3990,1393.3" stroke="#fff" stroke-width="1.6"/>
<ellipse cx="3987.7" cy="1638.4" rx="8" ry="9" fill="#000" stroke="none"/>
<path d="M3985,1642.4 Q3986,1635.4 3990,1634.4" stroke="#fff" stroke-width="1.6"/>
<ellipse cx="3987.7" cy="1650.5" rx="8" ry="9" fill="#000" stroke="none"/>
<path d="M3985,1654.5 Q3986,1647.5 3990,1646.5" stroke="#fff" stroke-width="1.6"/>
<line x1="3638.0" y1="1609.0" x2="3747.0" y2="1547.2" stroke-width="3.5" />
<line x1="3638.0" y1="1632.0" x2="3767.2" y2="1559.2" stroke-width="3.5" />
<line x1="3640.0" y1="1617.0" x2="3755.0" y2="1552.0" stroke-width="1.8" stroke="#8a8a8a"/>
<line x1="3640.0" y1="1621.0" x2="3757.0" y2="1555.0" stroke-width="1.8" stroke="#8a8a8a"/>
<path d="M3759.6,1566.8 Q3775,1574 3791.8,1574 L3800,1580 L3795,1570 Z" fill="#000" stroke="#000" stroke-width="3"/>
<line x1="3785.5" y1="1573.0" x2="3785.5" y2="1791.8" stroke-width="4.5" stroke-linecap="butt"/>
<line x1="3815.0" y1="1587.3" x2="3815.0" y2="1791.8" stroke-width="4.5" stroke-linecap="butt"/>
<path d="M3785.5,1791.8 Q3800,1806 3815,1791.8" fill="none" stroke-width="4" />
<path d="M3785.5,1783 L3765.9,1792.7 L3799.8,1813.2 L3834.6,1792.7 L3815,1781" fill="none" stroke-width="4.5" />
<ellipse cx="3616.7" cy="1643.2" rx="61" ry="36.5" fill="none" stroke="#000" stroke-width="4.5"/>
<path d="M3556,1648 A61,36.5 0 0 0 3677,1648" fill="none" stroke-width="3" />
<ellipse cx="3567.7" cy="1641.4" rx="10" ry="7.5" fill="#000" stroke="none"/>
<ellipse cx="3664.7" cy="1637.7" rx="10" ry="7.5" fill="#000" stroke="none"/>
<ellipse cx="3619.4" cy="1671" rx="10" ry="7.5" fill="#000" stroke="none"/>
<rect x="3612" y="1666" width="10" height="18" rx="4" fill="#000" stroke="none"/>
<line x1="3601.0" y1="1681.0" x2="3601.0" y2="1890.0" stroke-width="4.5" stroke-linecap="butt"/>
<line x1="3631.4" y1="1681.0" x2="3631.4" y2="1890.0" stroke-width="4.5" stroke-linecap="butt"/>
<path d="M3601,1890 Q3616,1902 3631.4,1890" fill="none" stroke-width="4" />
<path d="M3601,1882 L3582,1899.4 L3616,1919 L3650.7,1899 L3631.4,1883" fill="none" stroke-width="4.5" />
<line x1="3997.0" y1="1813.0" x2="4149.5" y2="1729.6" stroke-width="3.5" />
<line x1="3997.0" y1="1839.4" x2="4159.0" y2="1747.0" stroke-width="3.5" />
<line x1="3999.0" y1="1825.0" x2="4152.0" y2="1740.0" stroke-width="1.8" stroke="#8a8a8a"/>
<line x1="3999.0" y1="1829.0" x2="4154.0" y2="1743.5" stroke-width="1.8" stroke="#8a8a8a"/>
<path d="M3915.3,1857 A60.5,29.6 0 0 0 4036.2,1857" fill="none" stroke-width="6" />
<path d="M4036.2,1857 A60.5,29.6 0 0 0 4010,1832" fill="none" stroke-width="4" />
<ellipse cx="3926.5" cy="1851.4" rx="10" ry="7.5" fill="#000" stroke="none"/>
<ellipse cx="4024.2" cy="1845" rx="10" ry="7.5" fill="#000" stroke="none"/>
<ellipse cx="3978.5" cy="1877" rx="10" ry="7.5" fill="#000" stroke="none"/>
<rect x="3973" y="1872" width="11" height="18" rx="4" fill="#000" stroke="none"/>
<line x1="3960.0" y1="1886.0" x2="3960.0" y2="2098.0" stroke-width="4.5" stroke-linecap="butt"/>
<line x1="3991.5" y1="1886.0" x2="3991.5" y2="2098.0" stroke-width="4.5" stroke-linecap="butt"/>
<path d="M3960,2098 Q3976,2110 3991.5,2098" fill="none" stroke-width="4" />
<path d="M3960,2088 L3941,2107 L3975.5,2128 L4010,2107.5 L3991.5,2089" fill="none" stroke-width="4.5" />
<ellipse cx="4159.7" cy="1744" rx="60" ry="35.5" fill="none" stroke="#000" stroke-width="4.5"/>
<path d="M4099.7,1748 A60,35.5 0 0 0 4219.7,1748" fill="none" stroke-width="3" />
<ellipse cx="4108.6" cy="1742" rx="10" ry="7.5" fill="#000" stroke="none"/>
<ellipse cx="4206.9" cy="1738" rx="10" ry="7.5" fill="#000" stroke="none"/>
<ellipse cx="4161.6" cy="1769.2" rx="10" ry="7.5" fill="#000" stroke="none"/>
<rect x="4156" y="1764" width="11" height="18" rx="4" fill="#000" stroke="none"/>
<path d="M4143.5,1732 L4164,1752.4 L4175.8,1742" fill="none" stroke-width="4" />
<line x1="4144.2" y1="1780.0" x2="4144.2" y2="1993.0" stroke-width="4.5" stroke-linecap="butt"/>
<line x1="4175.6" y1="1780.0" x2="4175.6" y2="1993.0" stroke-width="4.5" stroke-linecap="butt"/>
<path d="M4144.2,1993 Q4160,2005 4175.6,1993" fill="none" stroke-width="4" />
<path d="M4144.2,1982 L4124.8,2000 L4159.6,2020.8 L4194,2000 L4175.6,1983" fill="none" stroke-width="4.5" />
<path d="M3942,1170 L3956,1164 L3958,1180 L3950,1192 L3944,1188 Z" fill="#000" stroke="none"/>
<rect x="3942" y="1186" width="10" height="18" rx="4" fill="#fff" stroke="#000" stroke-width="3"/>
<path d="M3944,1204 L3950,1204 L3924,1680 L3917,1680 Z" fill="#000" stroke="#000" stroke-width="1.5"/>
<rect x="3913" y="1678" width="14" height="16" rx="3" fill="#fff" stroke="#000" stroke-width="3.5"/>
<path d="M3913,1694 L3927,1694 L3922,1712 L3911,1712 Z" fill="#000" stroke="none"/>
<path d="M3915.3,1713.7 L3876.3,1748.5 A58,58 0 1 0 3954.0,1748.9 Z" fill="#fff" stroke="#000" stroke-width="5"/>
<path d="M3885.3,1744 A31.6,15.2 0 0 0 3948.5,1744" fill="none" stroke-width="6" />
<path d="M3870.4,1761.7 Q3917,1815 3964.9,1766.5" fill="none" stroke-width="2" stroke="#8a8a8a"/>
<path d="M3890,1733 L3932,1751 L3925,1718 Z" fill="none" stroke-width="2.5" stroke="#8a8a8a"/>
<circle cx="3912.0" cy="1727.0" r="6.0" fill="none" stroke-width="2.5" stroke="#8a8a8a"/>
<line x1="2138.4" y1="466.0" x2="2138.4" y2="2403.0" stroke-width="5.0" stroke-linecap="butt"/>
<line x1="2170.4" y1="466.0" x2="2170.4" y2="2403.0" stroke-width="5.0" stroke-linecap="butt"/>
<line x1="2136.0" y1="470.3" x2="2172.0" y2="470.3" stroke-width="6.5" stroke-linecap="butt"/>
<circle cx="2154.4" cy="498.5" r="6.2" fill="none" stroke-width="6.8" />
<circle cx="2154.4" cy="514.8" r="6.2" fill="none" stroke-width="6.8" />
<circle cx="2154.4" cy="806.4" r="6.2" fill="none" stroke-width="6.8" />
<circle cx="2154.4" cy="849.3" r="6.2" fill="none" stroke-width="6.8" />
<circle cx="2154.4" cy="1143.8" r="6.2" fill="none" stroke-width="6.8" />
<circle cx="2154.4" cy="1187.2" r="6.2" fill="none" stroke-width="6.8" />
<circle cx="2154.4" cy="1482.8" r="6.2" fill="none" stroke-width="6.8" />
<circle cx="2154.4" cy="1526.1" r="6.2" fill="none" stroke-width="6.8" />
<circle cx="2154.4" cy="1823.7" r="6.2" fill="none" stroke-width="6.8" />
<circle cx="2154.4" cy="1837.0" r="6.2" fill="none" stroke-width="6.8" />
<path d="M2138,1053 C2060,1190 1990,1400 1950,1560 C1905,1760 1888,1950 1887,2088" fill="none" stroke-width="5" />
<path d="M2138,1091 C2070,1220 2010,1400 1975,1540 C1930,1740 1905,1950 1903,2069" fill="none" stroke-width="5" />
<path d="M2022,1365 C2040,1335 2110,1320 2137,1387" fill="none" stroke-width="4.5" />
<rect x="2077" y="1269.5" width="43" height="45" fill="#111" stroke="#000" stroke-width="2"/>
<path d="M2082,1280 h33 M2082,1292 h33 M2082,1304 h33 M2098,1274 v36" stroke="#777" stroke-width="1.5"/>
<line x1="1903.0" y1="2069.5" x2="2138.0" y2="2069.5" stroke-width="5" stroke-linecap="butt"/>
<path d="M2176,1255 Q2184,1248 2190,1258 L2190,1280 L2178,1280 Z" fill="#000" stroke="none"/>
<line x1="2172.0" y1="1252.0" x2="2180.0" y2="1268.0" stroke-width="4" />
<rect x="2178" y="1275" width="11" height="17" rx="3" stroke-width="3.5" fill="#fff"/>
<path d="M2180,1292 L2188,1292 L2222,1843 L2213,1843 Z" fill="#000" stroke="#000" stroke-width="2"/>
<rect x="2212" y="1853" width="14" height="20" rx="3" stroke-width="4" transform="rotate(-4 2219 1863)"/>
<rect x="2213" y="1875" width="14" height="24" rx="5" stroke-width="4"/>
<path d="M2197.0,1927.0 L2180.7,1949.1 A58.8,58.8 0 1 0 2263.3,1937.0 L2250.0,1927.0" fill="none" stroke-width="5" />
<line x1="2197.0" y1="1927.0" x2="2250.0" y2="1927.0" stroke-width="4.5" />
<line x1="2201.0" y1="1921.0" x2="2246.0" y2="1921.0" stroke-width="3" />
<path d="M2201.0,1921.0 L2222.0,1898.0 Q2228,1893 2234.0,1898.0 L2246.0,1921.0" fill="none" stroke-width="4" />
<circle cx="2228.0" cy="1895.0" r="5.5" fill="none" stroke-width="4.5" />
<line x1="1894.8" y1="2044.5" x2="1894.8" y2="2088.0" stroke-width="1.6" />
<line x1="2154.7" y1="2044.5" x2="2154.7" y2="2088.0" stroke-width="1.6" />
<rect x="1749.2" y="2088.5" width="586.1" height="451.2" fill="none" stroke-width="1.92" />
<line x1="2335.0" y1="2088.5" x2="2520.0" y2="2088.5" stroke-width="1.6" />
<path d="M2014.6,2341.2h0.1M2288.3,2299.3h0.1M2046.8,2353.4h0.1M1804.8,2452.1h0.1M2154.5,2111.1h0.1M2322.0,2521.0h0.1M1843.6,2099.2h0.1M2058.7,2119.0h0.1M1769.7,2298.6h0.1M2007.8,2466.7h0.1M2042.1,2386.8h0.1M2017.5,2216.1h0.1M2330.9,2534.8h0.1M2308.0,2468.9h0.1M1752.5,2185.7h0.1M2280.2,2301.3h0.1M2320.9,2269.0h0.1M2311.5,2429.2h0.1M1810.8,2119.1h0.1M2315.4,2449.4h0.1M1928.6,2485.6h0.1M1810.4,2531.9h0.1M2308.6,2307.4h0.1M2085.5,2477.4h0.1M2279.2,2455.8h0.1M2181.1,2510.2h0.1M1866.2,2514.6h0.1M2264.0,2360.6h0.1M1774.6,2520.1h0.1M1901.3,2458.4h0.1M2076.7,2471.1h0.1M2284.4,2183.1h0.1M1761.8,2212.1h0.1M2010.8,2119.4h0.1M1962.3,2488.3h0.1M2321.0,2384.3h0.1M1833.6,2108.1h0.1M1762.6,2496.8h0.1M2158.8,2520.2h0.1M1764.5,2375.1h0.1M2031.9,2417.0h0.1M1937.2,2536.4h0.1M2179.7,2492.4h0.1M2212.4,2498.9h0.1M2274.8,2479.4h0.1M2328.4,2483.3h0.1M2007.7,2464.9h0.1M1769.5,2359.6h0.1M2031.2,2194.8h0.1M2108.7,2501.4h0.1M1900.6,2097.5h0.1M2277.6,2385.7h0.1M2008.6,2488.6h0.1M2219.8,2498.6h0.1M2262.8,2263.3h0.1M2237.8,2469.5h0.1M2164.8,2514.5h0.1M2013.6,2214.7h0.1M1935.1,2465.2h0.1M2321.9,2293.5h0.1M1795.5,2106.5h0.1M2258.5,2110.9h0.1M1763.3,2152.9h0.1M2016.0,2103.5h0.1M1833.9,2113.4h0.1M2220.6,2518.2h0.1M2027.8,2171.9h0.1M1758.4,2302.3h0.1M2277.9,2131.2h0.1M2293.2,2413.4h0.1M2115.1,2496.7h0.1M2262.3,2446.4h0.1M2300.0,2298.5h0.1M2171.0,2456.0h0.1M1875.9,2492.3h0.1M2321.0,2526.6h0.1M1938.1,2496.7h0.1M2035.0,2105.1h0.1M2221.6,2121.0h0.1M2300.8,2311.3h0.1M2302.8,2130.7h0.1M2242.5,2492.5h0.1M1873.0,2470.4h0.1M2314.0,2325.4h0.1M2103.3,2104.8h0.1M2314.6,2321.7h0.1M2153.0,2121.8h0.1M2307.3,2502.7h0.1M2225.4,2492.5h0.1M2028.6,2233.4h0.1M2288.9,2150.0h0.1M2204.3,2102.6h0.1M2181.9,2452.5h0.1M2275.8,2232.8h0.1M1934.9,2502.4h0.1M1878.7,2536.0h0.1M2267.1,2152.0h0.1M1762.5,2181.8h0.1M2148.1,2497.3h0.1M2314.0,2143.8h0.1M2045.5,2429.3h0.1M2043.9,2397.1h0.1M1813.8,2109.1h0.1M2239.6,2532.4h0.1M2289.9,2134.8h0.1M1788.1,2515.2h0.1M2020.2,2432.2h0.1M2100.8,2098.4h0.1M2158.9,2467.5h0.1M2049.5,2099.3h0.1M2270.3,2448.6h0.1M2161.0,2474.8h0.1M2322.3,2450.0h0.1M1902.0,2497.3h0.1M2272.3,2483.3h0.1M1758.3,2250.5h0.1M1886.8,2512.1h0.1M2332.2,2377.8h0.1M2320.7,2102.6h0.1M1781.5,2179.3h0.1M1897.7,2494.8h0.1M2313.2,2344.8h0.1M2329.5,2375.9h0.1M1778.4,2505.7h0.1M2106.7,2118.5h0.1M2300.6,2279.4h0.1M1923.9,2098.7h0.1M1894.3,2111.5h0.1M1978.4,2491.2h0.1M2186.3,2114.8h0.1M2325.8,2512.0h0.1M1794.8,2494.7h0.1M2001.4,2304.7h0.1M2316.7,2200.8h0.1M2055.8,2508.8h0.1M2320.0,2455.3h0.1M1870.3,2115.6h0.1M2009.1,2389.2h0.1M2016.5,2208.9h0.1M2330.9,2515.7h0.1M1818.3,2489.0h0.1M1896.6,2527.7h0.1M2283.4,2482.9h0.1M1775.1,2119.5h0.1M2184.3,2465.0h0.1M2131.4,2531.9h0.1M2185.0,2501.5h0.1M2000.3,2256.5h0.1M1808.5,2481.3h0.1M2285.1,2510.0h0.1M2282.0,2287.1h0.1M2294.4,2489.9h0.1M2263.2,2217.5h0.1M1765.1,2321.5h0.1M2312.8,2381.8h0.1M2218.8,2121.0h0.1M2179.8,2491.9h0.1M2313.9,2391.2h0.1M2038.6,2331.2h0.1M2283.0,2274.9h0.1M2247.3,2450.5h0.1M2235.9,2487.2h0.1M2307.8,2376.9h0.1M2182.2,2532.7h0.1M1921.6,2523.3h0.1M1786.5,2229.5h0.1M1788.4,2296.3h0.1M2091.0,2496.4h0.1M1773.3,2140.8h0.1M1903.3,2486.7h0.1M2282.6,2244.4h0.1M2069.7,2517.6h0.1M2032.2,2190.7h0.1M1781.0,2513.4h0.1M1911.5,2532.4h0.1M1758.5,2302.4h0.1M2121.7,2533.6h0.1M1753.0,2457.4h0.1M2243.1,2457.7h0.1M2030.7,2300.7h0.1M2306.5,2353.1h0.1M2284.0,2132.9h0.1M1843.6,2462.1h0.1M2023.2,2410.2h0.1M2020.1,2522.0h0.1M1759.4,2260.0h0.1M1758.3,2533.0h0.1M2300.4,2342.5h0.1M2286.2,2282.2h0.1M2049.0,2380.0h0.1M2197.1,2457.2h0.1M1991.3,2099.4h0.1M2321.8,2443.3h0.1M1763.0,2239.5h0.1M2047.7,2442.8h0.1M2276.0,2336.0h0.1M2324.6,2321.7h0.1M2167.2,2463.6h0.1M1866.6,2512.2h0.1M1943.2,2505.2h0.1M1824.1,2525.0h0.1M1830.9,2494.1h0.1M2279.7,2533.2h0.1M1823.4,2458.8h0.1M1919.6,2491.0h0.1M1770.8,2172.5h0.1M2324.8,2509.8h0.1M2218.5,2099.8h0.1M2124.5,2109.3h0.1M2308.7,2359.1h0.1" stroke-width="2.3" stroke-linecap="round"/>
<path d="M2020.7,2283.0 L2031.3,2281.6 L2027.5,2271.0Z M2029.1,2534.8 L2040.7,2533.7 L2037.1,2522.0Z M2286.0,2247.4 L2296.2,2247.0 L2293.5,2236.6Z M2162.9,2488.2 L2170.8,2496.0 L2177.1,2486.2Z M2007.3,2320.8 L2016.8,2321.7 L2015.6,2311.7Z M1814.0,2497.3 L1824.3,2497.0 L1821.8,2486.5Z M2250.2,2530.4 L2257.5,2538.8 L2264.6,2529.4Z M2076.6,2493.9 L2084.6,2492.9 L2081.9,2484.8Z M2061.3,2506.2 L2059.5,2513.6 L2067.5,2513.9Z M1778.4,2172.1 L1769.1,2169.3 L1768.2,2179.5Z M1780.8,2483.7 L1771.7,2484.7 L1774.7,2493.8Z M2242.8,2484.2 L2241.9,2491.9 L2250.0,2491.2Z M1887.0,2515.1 L1899.4,2515.0 L1896.6,2502.3Z M2218.4,2519.4 L2227.3,2518.0 L2223.9,2509.2Z M2288.1,2287.7 L2285.6,2295.3 L2294.0,2296.3Z M2044.6,2525.6 L2056.3,2528.0 L2056.3,2515.4Z M1805.0,2527.9 L1814.6,2529.1 L1813.8,2518.8Z M2271.7,2524.7 L2264.4,2521.9 L2263.1,2530.1Z M2085.0,2107.1 L2096.9,2106.1 L2093.3,2094.1Z M2039.5,2468.7 L2050.3,2470.5 L2049.8,2459.0Z M2304.0,2127.2 L2313.7,2127.2 L2311.7,2117.2Z M2163.9,2471.7 L2171.2,2474.3 L2172.4,2466.2Z M2304.3,2123.3 L2314.2,2122.3 L2311.0,2112.3Z M2013.9,2417.8 L2013.5,2425.6 L2021.6,2424.3Z M2284.2,2514.3 L2284.4,2525.2 L2295.5,2522.7Z M1820.7,2471.5 L1829.7,2474.9 L1831.3,2464.9Z M2311.8,2368.0 L2319.4,2366.2 L2315.9,2358.7Z M2317.0,2422.4 L2327.3,2423.2 L2326.0,2412.4Z M1977.3,2468.3 L1986.8,2467.7 L1984.1,2458.1Z M2018.2,2235.9 L2027.5,2239.0 L2028.7,2228.8Z M1766.5,2183.7 L1775.1,2181.5 L1771.0,2173.1Z M2321.4,2467.8 L2330.4,2464.1 L2324.6,2455.5Z M1772.1,2238.6 L1781.7,2239.8 L1780.8,2229.6Z M2015.4,2270.6 L2022.6,2261.2 L2011.3,2255.8Z M2007.3,2161.0 L2016.4,2165.6 L2019.1,2155.3Z M1773.0,2378.9 L1779.9,2371.2 L1770.4,2365.8Z M1790.5,2468.2 L1798.2,2475.1 L1803.6,2465.7Z M2301.7,2480.2 L2305.0,2472.1 L2295.9,2470.5Z M2149.6,2109.5 L2155.7,2116.8 L2161.9,2108.9Z M2276.4,2223.8 L2281.8,2216.0 L2272.6,2212.1Z M1774.3,2257.6 L1779.8,2247.0 L1767.8,2243.6Z M2017.6,2368.6 L2029.0,2372.8 L2030.9,2360.1Z M2019.6,2301.9 L2030.0,2295.3 L2021.0,2286.0Z M2308.5,2161.1 L2308.9,2169.7 L2317.6,2167.5Z M2288.2,2521.1 L2280.9,2518.7 L2280.0,2526.7Z M2218.6,2483.3 L2228.2,2488.5 L2231.4,2477.4Z M1814.5,2102.4 L1812.0,2113.6 L1824.1,2113.8Z M2142.3,2521.0 L2153.8,2521.0 L2151.4,2509.1Z M2271.7,2421.6 L2283.0,2425.0 L2284.1,2412.7Z M2029.6,2254.7 L2038.2,2250.6 L2032.2,2242.6Z M2315.4,2382.2 L2321.4,2376.6 L2314.2,2371.6Z M1858.8,2111.0 L1869.3,2110.6 L1866.7,2099.9Z M1843.2,2525.0 L1843.4,2536.8 L1855.5,2534.0Z M2168.0,2528.1 L2173.3,2534.4 L2178.6,2527.6Z M2226.6,2473.0 L2235.0,2472.9 L2233.2,2464.2Z" stroke-width="1.9" stroke-linejoin="round"/>
<rect x="1796.5" y="2128.1" width="196.8" height="314.9" fill="none" stroke-width="1.92" />
<clipPath id="clip1796_2128"><rect x="1796.5" y="2128.1" width="196.8" height="314.9"/></clipPath>
<path d="M1796.5,1959.2 L1993.3,1762.4 M1819.1,1992.9 L1859.1,1952.9 M1882.9,1929.1 L1915.9,1896.1 M1944.4,1867.6 L1983.2,1828.8 M1796.5,2071.8 L1993.3,1875.0 M1807.5,2117.1 L1845.2,2079.4 M1872.7,2051.9 L1912.0,2012.6 M1933.9,1990.7 L1963.5,1961.1 M1984.8,1939.8 L1994.1,1930.5 M1796.5,2184.4 L1993.3,1987.6 M1810.3,2226.9 L1839.1,2198.1 M1863.4,2173.8 L1890.6,2146.6 M1918.4,2118.8 L1947.5,2089.7 M1976.2,2061.0 L1994.1,2043.1 M1796.5,2297.0 L1993.3,2100.2 M1810.1,2339.7 L1842.7,2307.1 M1866.2,2283.6 L1893.9,2255.9 M1914.6,2235.2 L1955.3,2194.5 M1979.5,2170.3 L1994.1,2155.7 M1796.5,2409.6 L1993.3,2212.8 M1810.2,2452.2 L1852.6,2409.8 M1875.2,2387.2 L1915.6,2346.8 M1942.2,2320.2 L1975.6,2286.8 M1796.5,2522.2 L1993.3,2325.4 M1807.7,2567.3 L1835.5,2539.5 M1863.1,2511.9 L1900.2,2474.8 M1928.8,2446.2 L1960.0,2415.0 M1796.5,2634.8 L1993.3,2438.0 M1821.0,2666.6 L1863.3,2624.3 M1889.4,2598.2 L1929.2,2558.4 M1959.3,2528.3 L1988.9,2498.7 M1796.5,2128.1 L1877.0,2256.9 M1796.5,2443.0 L1877.0,2314.2 M1993.3,2128.1 L1911.5,2259.0 M1993.3,2443.0 L1911.5,2312.1" stroke-width="1.6" clip-path="url(#clip1796_2128)"/>
<line x1="1879.0" y1="2088.0" x2="1879.0" y2="2403.0" stroke-width="5.5" stroke-linecap="butt"/>
<line x1="1909.5" y1="2088.0" x2="1909.5" y2="2403.0" stroke-width="5.5" stroke-linecap="butt"/>
<line x1="1869.0" y1="2403.5" x2="1919.5" y2="2403.5" stroke-width="6" />
<path d="M1894.9,2044.1 L1894.9,2250.0 M1894.9,2262.0 L1894.9,2300 M1894.9,2312.0 L1894.9,2467.0" stroke-width="1.6" stroke-dasharray="60,10,6,10" stroke-linecap="butt"/>
<path d="M1886.9,2285.6 L1902.9,2285.6 M1889.2,2279.9 L1900.6,2291.2 M1894.9,2277.6 L1894.9,2293.6 M1900.6,2279.9 L1889.2,2291.2 " fill="none" stroke-width="1.8" />
<rect x="2055.2" y="2128.1" width="198.0" height="314.9" fill="none" stroke-width="1.92" />
<clipPath id="clip2055_2128"><rect x="2055.2" y="2128.1" width="198.0" height="314.9"/></clipPath>
<path d="M2055.2,1959.2 L2253.2,1761.2 M2060.0,2010.7 L2088.7,1982.0 M2109.6,1961.1 L2142.0,1928.7 M2172.5,1898.2 L2204.2,1866.5 M2231.2,1839.5 L2254.0,1816.7 M2055.2,2071.8 L2253.2,1873.8 M2082.3,2101.0 L2109.4,2073.9 M2136.6,2046.7 L2176.1,2007.2 M2207.1,1976.2 L2245.4,1937.9 M2055.2,2184.4 L2253.2,1986.4 M2077.9,2218.0 L2117.7,2178.2 M2148.3,2147.6 L2190.5,2105.4 M2211.8,2084.1 L2253.4,2042.5 M2055.2,2297.0 L2253.2,2099.0 M2075.2,2333.3 L2105.9,2302.6 M2138.6,2269.9 L2165.8,2242.7 M2193.8,2214.7 L2224.2,2184.3 M2249.5,2159.0 L2254.0,2154.5 M2055.2,2409.6 L2253.2,2211.6 M2078.1,2443.0 L2110.7,2410.4 M2139.5,2381.6 L2171.9,2349.2 M2195.6,2325.5 L2236.6,2284.5 M2055.2,2522.2 L2253.2,2324.2 M2057.9,2575.8 L2089.9,2543.8 M2120.2,2513.5 L2150.4,2483.3 M2180.7,2453.0 L2216.1,2417.6 M2245.5,2388.2 L2254.0,2379.7 M2055.2,2634.8 L2253.2,2436.8 M2059.2,2687.1 L2091.6,2654.7 M2117.5,2628.8 L2144.5,2601.8 M2171.4,2574.9 L2204.5,2541.8 M2228.9,2517.4 L2254.0,2492.3 M2055.2,2128.1 L2137.8,2259.1 M2055.2,2443.0 L2137.8,2312.0 M2253.2,2128.1 L2172.4,2257.0 M2253.2,2443.0 L2172.4,2314.1" stroke-width="1.6" clip-path="url(#clip2055_2128)"/>
<line x1="2139.8" y1="2088.0" x2="2139.8" y2="2403.0" stroke-width="5.5" stroke-linecap="butt"/>
<line x1="2170.4" y1="2088.0" x2="2170.4" y2="2403.0" stroke-width="5.5" stroke-linecap="butt"/>
<line x1="2129.8" y1="2403.5" x2="2180.4" y2="2403.5" stroke-width="6" />
<path d="M2154.5,2044.1 L2154.5,2250.0 M2154.5,2262.0 L2154.5,2300 M2154.5,2312.0 L2154.5,2467.0" stroke-width="1.6" stroke-dasharray="60,10,6,10" stroke-linecap="butt"/>
<path d="M2146.5,2285.6 L2162.5,2285.6 M2148.8,2279.9 L2160.2,2291.2 M2154.5,2277.6 L2154.5,2293.6 M2160.2,2279.9 L2148.8,2291.2 " fill="none" stroke-width="1.8" />
<line x1="1834.5" y1="2089.4" x2="1954.8" y2="2089.4" stroke-width="8.5" stroke-linecap="butt"/>
<rect x="1847.0" y="2080.4" width="16" height="23" rx="4" fill="#000" stroke="none"/>
<rect x="1844.0" y="2083.4" width="22" height="12" rx="3" fill="#000" stroke="none"/>
<rect x="1924.0" y="2080.4" width="16" height="23" rx="4" fill="#000" stroke="none"/>
<rect x="1921.0" y="2083.4" width="22" height="12" rx="3" fill="#000" stroke="none"/>
<line x1="2094.0" y1="2089.4" x2="2214.7" y2="2089.4" stroke-width="8.5" stroke-linecap="butt"/>
<rect x="2108.0" y="2080.4" width="16" height="23" rx="4" fill="#000" stroke="none"/>
<rect x="2105.0" y="2083.4" width="22" height="12" rx="3" fill="#000" stroke="none"/>
<rect x="2184.0" y="2080.4" width="16" height="23" rx="4" fill="#000" stroke="none"/>
<rect x="2181.0" y="2083.4" width="22" height="12" rx="3" fill="#000" stroke="none"/>
<line x1="1886.2" y1="333.0" x2="1886.2" y2="2080.0" stroke-width="1.6" />
<line x1="2170.4" y1="333.0" x2="2170.4" y2="466.0" stroke-width="1.6" />
<line x1="1886.2" y1="351.0" x2="2170.4" y2="351.0" stroke-width="1.6" />
<path d="M1886.2,351.0 L1928.2,344.5 L1928.2,357.5 Z" fill="#000" stroke="none"/>
<path d="M2170.4,351.0 L2128.4,357.5 L2128.4,344.5 Z" fill="#000" stroke="none"/>
<g transform="translate(1974.1,325.9)" stroke="#000" fill="none" stroke-width="4.30" stroke-linecap="round" stroke-linejoin="round"><path vector-effect="non-scaling-stroke" transform="matrix(3.6772,0,1.0278,-3.8360,-0.00,0)" d="M0,14 L6,14 L1.5,0"/><path vector-effect="non-scaling-stroke" transform="matrix(3.6772,0,1.0278,-3.8360,31.62,0)" d="M0,11.5 Q0.3,14 3,14 Q6,14 6,11 Q6,9 4,7 L0,0 L6,0"/><path vector-effect="non-scaling-stroke" transform="matrix(3.6772,0,1.0278,-3.8360,63.25,0)" d="M3,0 L3,0 Q6,0 6,3 L6,11 Q6,14 3,14 L3,14 Q0,14 0,11 L0,3 Q0,0 3,0 Z"/></g>
<line x1="2172.0" y1="470.4" x2="2520.0" y2="470.4" stroke-width="1.6" />
<line x1="2502.0" y1="470.4" x2="2502.0" y2="2088.7" stroke-width="1.6" />
<path d="M2502.0,470.4 L2508.5,512.4 L2495.5,512.4 Z" fill="#000" stroke="none"/>
<path d="M2502.0,2088.7 L2495.5,2046.7 L2508.5,2046.7 Z" fill="#000" stroke="none"/>
<g transform="translate(2478.6,1313.1) rotate(-90)" stroke="#000" fill="none" stroke-width="4.37" stroke-linecap="round" stroke-linejoin="round"><path vector-effect="non-scaling-stroke" transform="matrix(4.0289,0,1.0456,-3.9021,-0.00,0)" d="M4.6,14 L0,4 L6.5,4 M4.9,8.2 L4.9,0"/><path vector-effect="non-scaling-stroke" transform="matrix(4.0289,0,1.0456,-3.9021,36.66,0)" d="M0,10.8 L3.5,14 L3.5,0"/><path vector-effect="non-scaling-stroke" transform="matrix(4.0289,0,1.0456,-3.9021,61.24,0)" d="M0,10.8 L3.5,14 L3.5,0"/><path vector-effect="non-scaling-stroke" transform="matrix(4.0289,0,1.0456,-3.9021,85.82,0)" d="M3,0 L3,0 Q6,0 6,3 L6,11 Q6,14 3,14 L3,14 Q0,14 0,11 L0,3 Q0,0 3,0 Z"/></g>
<line x1="1894.9" y1="2461.0" x2="1894.9" y2="2728.9" stroke-width="1.6" />
<line x1="2154.5" y1="2461.0" x2="2154.5" y2="2728.9" stroke-width="1.6" />
<line x1="1894.9" y1="2710.0" x2="2154.5" y2="2710.0" stroke-width="1.6" />
<path d="M1894.9,2710.0 L1936.9,2703.5 L1936.9,2716.5 Z" fill="#000" stroke="none"/>
<path d="M2154.5,2710.0 L2112.5,2716.5 L2112.5,2703.5 Z" fill="#000" stroke="none"/>
<g transform="translate(2001.7,2686.9)" stroke="#000" fill="none" stroke-width="4.22" stroke-linecap="round" stroke-linejoin="round"><path vector-effect="non-scaling-stroke" transform="matrix(4.0790,0,1.0101,-3.7698,-0.00,0)" d="M5.5,14 Q0,14 0,8 L0,3 Q0,0 3,0 Q6,0 6,3 L6,5 Q6,8 3,8 Q0,8 0,5"/><path vector-effect="non-scaling-stroke" transform="matrix(4.0790,0,1.0101,-3.7698,35.08,0)" d="M5.5,14 Q0,14 0,8 L0,3 Q0,0 3,0 Q6,0 6,3 L6,5 Q6,8 3,8 Q0,8 0,5"/><path vector-effect="non-scaling-stroke" transform="matrix(4.0790,0,1.0101,-3.7698,70.16,0)" d="M3,0 L3,0 Q6,0 6,3 L6,11 Q6,14 3,14 L3,14 Q0,14 0,11 L0,3 Q0,0 3,0 Z"/></g>
<circle cx="728.1" cy="2915.0" r="60.5" fill="none" stroke-width="4.5" />
<circle cx="690.6" cy="2885.0" r="9" fill="#000" stroke="none"/>
<circle cx="696.6" cy="2880.0" r="5.5" fill="#000" stroke="none"/>
<circle cx="690.6" cy="2885.0" r="1.6" fill="#fff" stroke="none"/>
<circle cx="760.1" cy="2879.0" r="9" fill="#000" stroke="none"/>
<circle cx="766.1" cy="2887.0" r="5.5" fill="#000" stroke="none"/>
<circle cx="760.1" cy="2879.0" r="1.6" fill="#fff" stroke="none"/>
<circle cx="696.6" cy="2954.0" r="9" fill="#000" stroke="none"/>
<circle cx="690.6" cy="2946.0" r="5.5" fill="#000" stroke="none"/>
<circle cx="696.6" cy="2954.0" r="1.6" fill="#fff" stroke="none"/>
<circle cx="765.6" cy="2948.6" r="9" fill="#000" stroke="none"/>
<circle cx="759.6" cy="2956.6" r="5.5" fill="#000" stroke="none"/>
<circle cx="765.6" cy="2948.6" r="1.6" fill="#fff" stroke="none"/>
<circle cx="1236.0" cy="2915.0" r="60.5" fill="none" stroke-width="4.5" />
<circle cx="1198.5" cy="2885.0" r="9" fill="#000" stroke="none"/>
<circle cx="1204.5" cy="2880.0" r="5.5" fill="#000" stroke="none"/>
<circle cx="1198.5" cy="2885.0" r="1.6" fill="#fff" stroke="none"/>
<circle cx="1268.0" cy="2879.0" r="9" fill="#000" stroke="none"/>
<circle cx="1274.0" cy="2887.0" r="5.5" fill="#000" stroke="none"/>
<circle cx="1268.0" cy="2879.0" r="1.6" fill="#fff" stroke="none"/>
<circle cx="1204.5" cy="2954.0" r="9" fill="#000" stroke="none"/>
<circle cx="1198.5" cy="2946.0" r="5.5" fill="#000" stroke="none"/>
<circle cx="1204.5" cy="2954.0" r="1.6" fill="#fff" stroke="none"/>
<circle cx="1273.5" cy="2948.6" r="9" fill="#000" stroke="none"/>
<circle cx="1267.5" cy="2956.6" r="5.5" fill="#000" stroke="none"/>
<circle cx="1273.5" cy="2948.6" r="1.6" fill="#fff" stroke="none"/>
<circle cx="728.1" cy="3176.5" r="60.5" fill="none" stroke-width="4.5" />
<circle cx="690.6" cy="3146.5" r="9" fill="#000" stroke="none"/>
<circle cx="696.6" cy="3141.5" r="5.5" fill="#000" stroke="none"/>
<circle cx="690.6" cy="3146.5" r="1.6" fill="#fff" stroke="none"/>
<circle cx="760.1" cy="3140.5" r="9" fill="#000" stroke="none"/>
<circle cx="766.1" cy="3148.5" r="5.5" fill="#000" stroke="none"/>
<circle cx="760.1" cy="3140.5" r="1.6" fill="#fff" stroke="none"/>
<circle cx="696.6" cy="3215.5" r="9" fill="#000" stroke="none"/>
<circle cx="690.6" cy="3207.5" r="5.5" fill="#000" stroke="none"/>
<circle cx="696.6" cy="3215.5" r="1.6" fill="#fff" stroke="none"/>
<circle cx="765.6" cy="3210.1" r="9" fill="#000" stroke="none"/>
<circle cx="759.6" cy="3218.1" r="5.5" fill="#000" stroke="none"/>
<circle cx="765.6" cy="3210.1" r="1.6" fill="#fff" stroke="none"/>
<circle cx="1236.5" cy="3176.2" r="60.5" fill="none" stroke-width="4.5" />
<circle cx="1199.0" cy="3146.2" r="9" fill="#000" stroke="none"/>
<circle cx="1205.0" cy="3141.2" r="5.5" fill="#000" stroke="none"/>
<circle cx="1199.0" cy="3146.2" r="1.6" fill="#fff" stroke="none"/>
<circle cx="1268.5" cy="3140.2" r="9" fill="#000" stroke="none"/>
<circle cx="1274.5" cy="3148.2" r="5.5" fill="#000" stroke="none"/>
<circle cx="1268.5" cy="3140.2" r="1.6" fill="#fff" stroke="none"/>
<circle cx="1205.0" cy="3215.2" r="9" fill="#000" stroke="none"/>
<circle cx="1199.0" cy="3207.2" r="5.5" fill="#000" stroke="none"/>
<circle cx="1205.0" cy="3215.2" r="1.6" fill="#fff" stroke="none"/>
<circle cx="1274.0" cy="3209.8" r="9" fill="#000" stroke="none"/>
<circle cx="1268.0" cy="3217.8" r="5.5" fill="#000" stroke="none"/>
<circle cx="1274.0" cy="3209.8" r="1.6" fill="#fff" stroke="none"/>
<rect x="712.2" y="2908" width="31.4" height="284" fill="#fff" stroke-width="4.5"/>
<line x1="712.2" y1="3160.0" x2="743.6" y2="3160.0" stroke-width="4.5" />
<rect x="1220.5" y="2908" width="31.5" height="284" fill="#fff" stroke-width="4.5"/>
<line x1="1220.5" y1="3160.0" x2="1252.0" y2="3160.0" stroke-width="4.5" />
<rect x="743.6" y="3167.7" width="477" height="22.5" fill="#fff" stroke="none"/>
<line x1="743.6" y1="3167.7" x2="1220.5" y2="3167.7" stroke-width="4.5" stroke-linecap="butt"/>
<line x1="743.6" y1="3184.0" x2="1220.5" y2="3184.0" stroke-width="4.5" stroke-linecap="butt"/>
<line x1="743.6" y1="3190.0" x2="1220.5" y2="3190.0" stroke-width="4.5" stroke-linecap="butt"/>
<path d="M749,3167 a8,7 0 0 1 16,0" fill="#000" stroke="none"/>
<path d="M767,3167 a8,7 0 0 1 16,0" fill="#000" stroke="none"/>
<path d="M826,3167 a8,7 0 0 1 16,0" fill="#000" stroke="none"/>
<path d="M885,3167 a8,7 0 0 1 16,0" fill="#000" stroke="none"/>
<path d="M944,3167 a8,7 0 0 1 16,0" fill="#000" stroke="none"/>
<path d="M1003,3167 a8,7 0 0 1 16,0" fill="#000" stroke="none"/>
<path d="M1062,3167 a8,7 0 0 1 16,0" fill="#000" stroke="none"/>
<path d="M1122,3167 a8,7 0 0 1 16,0" fill="#000" stroke="none"/>
<path d="M1182,3167 a8,7 0 0 1 16,0" fill="#000" stroke="none"/>
<path d="M1197,3167 a8,7 0 0 1 16,0" fill="#000" stroke="none"/>
<path d="M712,3170 a10,9 0 0 0 0,18" fill="none" stroke-width="4.5" />
<path d="M1252,3170 a10,9 0 0 1 0,18" fill="none" stroke-width="4.5" />
<circle cx="1224.4" cy="3250.9" r="58.9" fill="#fff" stroke-width="4.5" />
<circle cx="1224.4" cy="3246.2" r="31.6" fill="none" stroke-width="4.5" />
<line x1="1224.4" y1="3192.0" x2="1224.4" y2="3248.0" stroke-width="9" />
<ellipse cx="1224.4" cy="3244" rx="7" ry="10" fill="#000" stroke="none"/>
<ellipse cx="1228" cy="3204" rx="14" ry="7" fill="#000" stroke="none"/>
<line x1="1252.0" y1="2908.0" x2="1446.3" y2="2908.0" stroke-width="1.6" />
<line x1="1252.0" y1="3192.0" x2="1446.3" y2="3192.0" stroke-width="1.6" />
<line x1="1426.7" y1="2908.0" x2="1426.7" y2="3192.0" stroke-width="1.6" />
<path d="M1426.7,2908.0 L1433.2,2950.0 L1420.2,2950.0 Z" fill="#000" stroke="none"/>
<path d="M1426.7,3192.0 L1420.2,3150.0 L1433.2,3150.0 Z" fill="#000" stroke="none"/>
<g transform="translate(1403.5,3104.9) rotate(-90)" stroke="#000" fill="none" stroke-width="4.22" stroke-linecap="round" stroke-linejoin="round"><path vector-effect="non-scaling-stroke" transform="matrix(3.8204,0,1.0101,-3.7698,-0.00,0)" d="M0,14 L6,14 L1.5,0"/><path vector-effect="non-scaling-stroke" transform="matrix(3.8204,0,1.0101,-3.7698,32.86,0)" d="M0,11.5 Q0.3,14 3,14 Q6,14 6,11 Q6,9 4,7 L0,0 L6,0"/><path vector-effect="non-scaling-stroke" transform="matrix(3.8204,0,1.0101,-3.7698,65.71,0)" d="M3,0 L3,0 Q6,0 6,3 L6,11 Q6,14 3,14 L3,14 Q0,14 0,11 L0,3 Q0,0 3,0 Z"/></g>
<line x1="712.4" y1="466.0" x2="712.4" y2="2403.0" stroke-width="4.4" stroke-linecap="butt"/>
<line x1="744.9" y1="466.0" x2="744.9" y2="2403.0" stroke-width="5.5" stroke-linecap="butt"/>
<line x1="1219.6" y1="466.0" x2="1219.6" y2="1251.0" stroke-width="5.5" stroke-linecap="butt"/>
<line x1="1252.0" y1="466.0" x2="1252.0" y2="2403.0" stroke-width="4.4" stroke-linecap="butt"/>
<line x1="710.0" y1="470.3" x2="745.0" y2="470.3" stroke-width="6.5" stroke-linecap="butt"/>
<line x1="1219.0" y1="470.3" x2="1254.0" y2="470.3" stroke-width="6.5" stroke-linecap="butt"/>
<line x1="745.0" y1="471.3" x2="1219.6" y2="471.3" stroke-width="4.5" stroke-linecap="butt"/>
<line x1="745.0" y1="1864.9" x2="1219.6" y2="1864.9" stroke-width="4.5" stroke-linecap="butt"/>
<path d="M745,1176.2 L799.5,1176.2 Q803.5,1176.2 806.0,1168.1 Q808.4,1160 812.4,1160 L860.5,1160 Q864.5,1160 866.0,1168.1 Q867.5,1176.2 871.5,1176.2 L916.0,1176.2 Q920,1176.2 922.5,1168.1 Q925,1160 929.0,1160 L978.7,1160 Q982.7,1160 984.4,1168.1 Q986,1176.2 990.0,1176.2 L1034.0,1176.2 Q1038,1176.2 1040.5,1168.1 Q1043,1160 1047.0,1160 L1097.0,1160 Q1101,1160 1102.5,1168.1 Q1104,1176.2 1108.0,1176.2 L1153.0,1176.2 Q1157,1176.2 1159.5,1168.1 Q1162,1160 1166.0,1160 L1219.6,1160" fill="none" stroke-width="4.5" />
<circle cx="757.8" cy="479.4" r="4.4" fill="#000" stroke="none"/>
<circle cx="907.0" cy="479.4" r="4.4" fill="#000" stroke="none"/>
<circle cx="1057.0" cy="479.4" r="4.4" fill="#000" stroke="none"/>
<circle cx="1206.3" cy="479.4" r="4.4" fill="#000" stroke="none"/>
<circle cx="757.8" cy="829.7" r="4.4" fill="#000" stroke="none"/>
<circle cx="907.0" cy="829.7" r="4.4" fill="#000" stroke="none"/>
<circle cx="1057.0" cy="829.7" r="4.4" fill="#000" stroke="none"/>
<circle cx="1206.3" cy="829.7" r="4.4" fill="#000" stroke="none"/>
<circle cx="757.8" cy="1507.0" r="4.4" fill="#000" stroke="none"/>
<circle cx="907.0" cy="1507.0" r="4.4" fill="#000" stroke="none"/>
<circle cx="1057.0" cy="1507.0" r="4.4" fill="#000" stroke="none"/>
<circle cx="1206.3" cy="1507.0" r="4.4" fill="#000" stroke="none"/>
<circle cx="757.8" cy="1857.0" r="4.4" fill="#000" stroke="none"/>
<circle cx="907.0" cy="1857.0" r="4.4" fill="#000" stroke="none"/>
<circle cx="1057.0" cy="1857.0" r="4.4" fill="#000" stroke="none"/>
<circle cx="1206.3" cy="1857.0" r="4.4" fill="#000" stroke="none"/>
<circle cx="775.5" cy="1168.5" r="4.4" fill="#000" stroke="none"/>
<circle cx="834.6" cy="1168.5" r="4.4" fill="#000" stroke="none"/>
<circle cx="893.7" cy="1168.5" r="4.4" fill="#000" stroke="none"/>
<circle cx="952.8" cy="1168.5" r="4.4" fill="#000" stroke="none"/>
<circle cx="1011.9" cy="1168.5" r="4.4" fill="#000" stroke="none"/>
<circle cx="1071.0" cy="1168.5" r="4.4" fill="#000" stroke="none"/>
<circle cx="1130.1" cy="1168.5" r="4.4" fill="#000" stroke="none"/>
<circle cx="1189.2" cy="1168.5" r="4.4" fill="#000" stroke="none"/>
<path d="M712.4,490.2 A11.0,8.2 0 0 0 712.4,506.6" stroke-width="6.3"/>
<path d="M1252.0,490.2 A11.0,8.2 0 0 1 1252.0,506.6" stroke-width="6.3"/>
<path d="M712.4,506.6 A11.0,8.2 0 0 0 712.4,523.0" stroke-width="6.3"/>
<path d="M1252.0,506.6 A11.0,8.2 0 0 1 1252.0,523.0" stroke-width="6.3"/>
<path d="M712.4,798.2 A11.0,8.2 0 0 0 712.4,814.6" stroke-width="6.3"/>
<path d="M1252.0,798.2 A11.0,8.2 0 0 1 1252.0,814.6" stroke-width="6.3"/>
<path d="M712.4,841.4 A11.0,8.2 0 0 0 712.4,857.8" stroke-width="6.3"/>
<path d="M1252.0,841.4 A11.0,8.2 0 0 1 1252.0,857.8" stroke-width="6.3"/>
<path d="M712.4,1135.8 A11.0,8.2 0 0 0 712.4,1152.2" stroke-width="6.3"/>
<path d="M1252.0,1135.8 A11.0,8.2 0 0 1 1252.0,1152.2" stroke-width="6.3"/>
<path d="M712.4,1180.2 A11.0,8.2 0 0 0 712.4,1196.6" stroke-width="6.3"/>
<path d="M1252.0,1180.2 A11.0,8.2 0 0 1 1252.0,1196.6" stroke-width="6.3"/>
<path d="M712.4,1474.7 A11.0,8.2 0 0 0 712.4,1491.1" stroke-width="6.3"/>
<path d="M1252.0,1474.7 A11.0,8.2 0 0 1 1252.0,1491.1" stroke-width="6.3"/>
<path d="M712.4,1518.3 A11.0,8.2 0 0 0 712.4,1534.7" stroke-width="6.3"/>
<path d="M1252.0,1518.3 A11.0,8.2 0 0 1 1252.0,1534.7" stroke-width="6.3"/>
<path d="M712.4,1813.5 A11.0,8.2 0 0 0 712.4,1829.9" stroke-width="6.3"/>
<path d="M1252.0,1813.5 A11.0,8.2 0 0 1 1252.0,1829.9" stroke-width="6.3"/>
<path d="M712.4,1828.3 A11.0,8.2 0 0 0 712.4,1844.7" stroke-width="6.3"/>
<path d="M1252.0,1828.3 A11.0,8.2 0 0 1 1252.0,1844.7" stroke-width="6.3"/>
<path d="M1216,1262 Q1222,1246 1232,1252 Q1242,1256 1236,1266 L1236,1292 L1216,1292 Z" fill="#000" stroke="none"/>
<rect x="1221" y="1280" width="7" height="9" fill="#fff" stroke="none"/>
<path d="M1216.5,1292 L1229.5,1292 L1229.5,1855 L1216.5,1855 Z" fill="#000" stroke="none"/>
<rect x="1217" y="1855" width="13" height="26" rx="3" stroke-width="4"/>
<line x1="1223.5" y1="1868.0" x2="1223.5" y2="1895.0" stroke-width="6" />
<path d="M1194.8,1927.0 L1177.1,1950.7 A59,59 0 1 0 1269.7,1948.2 L1252.0,1927.0" fill="none" stroke-width="5" />
<line x1="1194.8" y1="1927.0" x2="1252.0" y2="1927.0" stroke-width="4.5" />
<line x1="1198.8" y1="1921.0" x2="1248.0" y2="1921.0" stroke-width="3" />
<path d="M1198.8,1921.0 L1218.4,1893.7 Q1224.4,1888.7 1230.4,1893.7 L1248.0,1921.0" fill="none" stroke-width="4" />
<circle cx="1224.4" cy="1906.0" r="5.5" fill="none" stroke-width="4.5" />
<line x1="1220.7" y1="2045.0" x2="1220.7" y2="2403.0" stroke-width="5.5" stroke-linecap="butt"/>
<line x1="728.6" y1="2044.5" x2="728.6" y2="2088.0" stroke-width="1.6" />
<line x1="1236.2" y1="2045.0" x2="1236.2" y2="2088.0" stroke-width="1.6" />
<rect x="564.2" y="2088.5" width="873.1" height="450.7" fill="none" stroke-width="1.92" />
<path d="M848.0,2159.4h0.1M1031.9,2254.8h0.1M617.5,2317.6h0.1M599.7,2284.9h0.1M935.3,2459.4h0.1M1111.2,2513.0h0.1M1067.6,2268.5h0.1M1413.7,2113.2h0.1M834.7,2454.6h0.1M1121.2,2257.7h0.1M1042.1,2120.4h0.1M618.9,2183.9h0.1M839.6,2352.3h0.1M960.2,2225.5h0.1M1022.6,2480.8h0.1M1417.1,2144.9h0.1M929.8,2428.4h0.1M601.2,2389.0h0.1M1070.0,2294.9h0.1M1295.5,2511.7h0.1M978.3,2387.2h0.1M619.8,2403.8h0.1M1128.3,2533.1h0.1M901.7,2389.2h0.1M586.8,2297.4h0.1M618.3,2433.4h0.1M906.2,2479.1h0.1M1043.6,2484.5h0.1M1277.6,2475.8h0.1M878.3,2484.8h0.1M1397.6,2159.5h0.1M1078.0,2209.1h0.1M570.7,2278.4h0.1M887.4,2343.8h0.1M1393.6,2398.9h0.1M1014.2,2366.5h0.1M1153.5,2116.5h0.1M1347.2,2438.6h0.1M907.4,2269.5h0.1M621.2,2122.4h0.1M862.1,2115.8h0.1M567.4,2159.6h0.1M589.3,2480.4h0.1M1099.7,2158.4h0.1M883.0,2147.0h0.1M1303.3,2533.1h0.1M971.3,2307.2h0.1M864.3,2210.0h0.1M587.2,2514.5h0.1M1025.3,2157.5h0.1M1038.2,2104.5h0.1M1025.1,2526.7h0.1M1029.0,2438.2h0.1M853.1,2191.5h0.1M1270.9,2529.5h0.1M1306.5,2450.2h0.1M875.5,2105.4h0.1M591.4,2216.5h0.1M1396.6,2290.9h0.1M1379.7,2530.9h0.1M1395.3,2254.3h0.1M1108.3,2492.0h0.1M1356.1,2439.6h0.1M855.5,2447.8h0.1M1409.7,2268.1h0.1M915.2,2512.6h0.1M1351.8,2450.3h0.1M693.9,2459.2h0.1M1417.2,2384.1h0.1M871.0,2335.9h0.1M680.8,2098.8h0.1M1409.1,2380.8h0.1M1023.8,2506.7h0.1M943.4,2479.3h0.1M680.9,2496.3h0.1M874.0,2295.8h0.1M1073.0,2493.7h0.1M931.9,2499.7h0.1M1002.2,2328.5h0.1M1021.1,2100.8h0.1M948.8,2173.7h0.1M570.6,2447.1h0.1M849.9,2322.5h0.1M1048.8,2440.5h0.1M1054.3,2429.7h0.1M1358.4,2289.2h0.1M1098.3,2316.8h0.1M1011.3,2399.9h0.1M959.4,2329.1h0.1M981.7,2510.2h0.1M1173.5,2481.4h0.1M1384.2,2207.7h0.1M1052.4,2511.0h0.1M1247.0,2490.5h0.1M1332.7,2521.8h0.1M757.6,2515.1h0.1M912.5,2308.7h0.1M1425.5,2461.9h0.1M1014.3,2243.0h0.1M1193.4,2101.1h0.1M1047.6,2287.9h0.1M582.9,2239.6h0.1M1108.2,2319.8h0.1M622.9,2529.6h0.1M1250.8,2523.6h0.1M601.5,2438.1h0.1M933.3,2496.9h0.1M696.7,2500.3h0.1M1062.0,2403.3h0.1M644.8,2118.0h0.1M630.0,2508.8h0.1M1117.3,2448.2h0.1M639.8,2472.4h0.1M625.0,2475.3h0.1M960.7,2243.0h0.1M1046.8,2503.7h0.1M1024.1,2198.3h0.1M610.9,2182.0h0.1M837.7,2227.8h0.1M1000.8,2171.4h0.1M868.1,2100.6h0.1M784.4,2099.3h0.1M1377.6,2139.7h0.1M996.4,2462.8h0.1M908.0,2317.3h0.1M1163.5,2528.4h0.1M864.4,2461.8h0.1M918.1,2246.7h0.1M614.4,2150.1h0.1M640.5,2465.8h0.1M795.5,2519.2h0.1M1410.6,2335.2h0.1M779.2,2521.0h0.1M835.6,2250.7h0.1M568.1,2261.8h0.1M978.8,2315.6h0.1M571.5,2209.7h0.1M603.3,2102.5h0.1M1075.0,2327.3h0.1M1188.0,2482.6h0.1M904.9,2237.2h0.1M1421.1,2158.8h0.1M605.2,2463.1h0.1M1340.6,2370.8h0.1M1203.5,2452.9h0.1M1004.5,2463.0h0.1M1264.9,2459.2h0.1M1073.6,2488.6h0.1M766.6,2106.3h0.1M658.2,2463.4h0.1M1051.5,2371.0h0.1M1110.2,2394.5h0.1M991.5,2094.0h0.1M1003.3,2330.0h0.1M1138.9,2121.8h0.1M1208.7,2525.4h0.1M995.5,2262.2h0.1M982.5,2395.9h0.1M1124.5,2126.9h0.1M1059.5,2098.0h0.1M619.8,2211.8h0.1M1015.1,2298.7h0.1M971.6,2145.1h0.1M1342.1,2180.9h0.1M1415.3,2507.9h0.1M582.4,2296.1h0.1M1278.1,2522.0h0.1M956.9,2211.7h0.1M749.1,2512.1h0.1M1393.3,2151.3h0.1M767.8,2490.8h0.1M988.7,2103.5h0.1M570.3,2310.7h0.1M958.1,2226.5h0.1M841.3,2465.3h0.1M568.7,2425.6h0.1M1370.5,2408.9h0.1M1348.9,2221.1h0.1M890.0,2266.8h0.1M1433.3,2353.9h0.1M880.0,2282.4h0.1M805.8,2113.9h0.1M655.4,2462.8h0.1M814.9,2507.6h0.1M1010.3,2176.7h0.1M890.9,2516.8h0.1M1333.9,2452.8h0.1M1114.2,2497.8h0.1M1382.9,2336.2h0.1M1191.1,2114.5h0.1M815.4,2114.2h0.1M1370.8,2149.0h0.1M976.6,2245.0h0.1M1413.7,2207.9h0.1M1050.5,2267.5h0.1M747.4,2494.5h0.1M998.2,2190.1h0.1M1353.0,2534.6h0.1M957.4,2154.4h0.1M863.7,2132.9h0.1M1061.1,2486.2h0.1M926.1,2325.1h0.1M894.0,2242.6h0.1M621.0,2215.6h0.1M1406.3,2148.4h0.1M1003.7,2371.9h0.1M913.8,2290.3h0.1M1394.4,2469.1h0.1M1324.1,2102.2h0.1M595.2,2407.3h0.1M1343.9,2302.5h0.1M1076.3,2092.6h0.1M906.7,2503.7h0.1M1283.1,2472.1h0.1M1410.2,2202.7h0.1M1020.1,2395.1h0.1M1383.6,2412.7h0.1M1128.5,2431.8h0.1M963.7,2337.2h0.1M601.5,2439.6h0.1M768.9,2500.7h0.1M1126.9,2227.3h0.1M1118.9,2402.5h0.1M1021.9,2351.1h0.1M903.7,2191.7h0.1M1088.4,2097.1h0.1M1398.7,2378.5h0.1M1400.1,2405.2h0.1M833.7,2102.2h0.1M999.3,2391.8h0.1M931.4,2206.6h0.1M1145.9,2503.0h0.1M763.8,2107.6h0.1M860.3,2279.1h0.1M1005.0,2183.6h0.1M1408.2,2230.8h0.1M822.9,2514.9h0.1M997.1,2175.6h0.1M1144.1,2513.5h0.1M751.8,2524.7h0.1M690.3,2115.5h0.1M619.3,2267.0h0.1M1346.0,2484.5h0.1M1202.5,2535.1h0.1M1375.0,2238.6h0.1M728.1,2507.8h0.1M1214.3,2106.7h0.1M891.4,2239.7h0.1M714.0,2093.8h0.1M1395.7,2147.4h0.1M1403.3,2184.5h0.1M876.4,2457.0h0.1M609.9,2302.6h0.1M890.4,2500.5h0.1M1345.0,2105.9h0.1M923.4,2452.7h0.1M1232.0,2110.5h0.1M597.4,2120.3h0.1M1365.0,2206.5h0.1M1215.2,2491.2h0.1M861.2,2213.3h0.1M1397.6,2366.3h0.1M841.6,2214.8h0.1M570.5,2427.8h0.1M1361.9,2373.8h0.1M1385.1,2103.3h0.1M1396.8,2515.8h0.1M902.3,2203.9h0.1M940.0,2311.5h0.1M1372.0,2173.7h0.1M1093.8,2237.9h0.1M844.3,2253.1h0.1M781.6,2121.2h0.1M596.6,2337.7h0.1M849.7,2527.4h0.1M1333.3,2530.8h0.1M1105.1,2391.6h0.1M1215.8,2468.3h0.1M1058.7,2258.0h0.1M700.1,2484.8h0.1M1068.6,2237.3h0.1M910.6,2532.8h0.1M1007.1,2195.2h0.1M1426.5,2137.9h0.1M978.9,2455.9h0.1M1296.0,2498.2h0.1M602.2,2222.8h0.1M1410.9,2351.3h0.1M1373.8,2257.7h0.1M1387.2,2139.4h0.1M1084.1,2367.6h0.1M577.1,2237.7h0.1M837.9,2182.8h0.1M622.1,2137.5h0.1M910.0,2336.6h0.1M1121.4,2132.9h0.1M922.5,2218.2h0.1M833.9,2515.4h0.1M838.0,2343.9h0.1M876.9,2277.3h0.1M1316.6,2534.7h0.1M882.6,2180.0h0.1M572.3,2492.6h0.1M934.6,2456.5h0.1M919.4,2484.2h0.1M966.9,2164.6h0.1M580.1,2337.2h0.1M1122.7,2496.2h0.1M888.8,2316.3h0.1M1019.1,2503.1h0.1M1265.1,2521.5h0.1M1384.9,2525.4h0.1M985.8,2116.2h0.1M1370.3,2264.6h0.1M1351.2,2367.7h0.1M917.9,2468.0h0.1M1016.3,2262.7h0.1M1195.7,2490.6h0.1M602.8,2342.0h0.1M1224.0,2109.4h0.1" stroke-width="2.3" stroke-linecap="round"/>
<path d="M1085.6,2344.2 L1092.6,2336.2 L1082.9,2330.7Z M902.2,2263.8 L912.1,2262.0 L908.1,2252.2Z M1107.3,2309.1 L1099.0,2306.5 L1098.0,2315.6Z M881.8,2451.0 L891.7,2449.3 L887.8,2439.5Z M681.6,2502.2 L690.6,2500.7 L687.2,2491.7Z M999.2,2269.3 L1011.2,2267.1 L1006.4,2255.3Z M681.4,2484.7 L690.2,2486.7 L690.3,2477.2Z M1098.1,2496.6 L1103.9,2488.6 L1094.5,2484.4Z M1355.2,2185.9 L1355.3,2194.8 L1364.4,2192.9Z M605.5,2184.3 L611.2,2178.1 L603.5,2173.6Z M1032.0,2371.3 L1022.7,2370.0 L1023.4,2379.8Z M1065.6,2484.6 L1073.7,2483.4 L1070.8,2475.3Z M886.5,2266.2 L895.9,2266.4 L894.1,2256.6Z M609.7,2453.3 L616.1,2459.5 L621.1,2451.6Z M934.1,2253.8 L926.3,2254.3 L928.4,2262.3Z M1126.6,2111.1 L1133.3,2114.8 L1135.7,2107.2Z M1020.7,2336.7 L1026.7,2329.2 L1017.7,2324.6Z M975.7,2151.7 L973.0,2163.5 L985.7,2163.8Z M959.6,2133.2 L964.1,2126.2 L955.9,2123.0Z M792.8,2105.7 L801.1,2112.4 L806.3,2102.4Z M1072.4,2355.3 L1062.3,2355.7 L1064.9,2366.0Z M1022.4,2277.4 L1030.6,2280.4 L1032.0,2271.2Z M922.0,2328.7 L932.6,2327.6 L929.3,2316.9Z M1189.4,2097.6 L1177.8,2099.3 L1182.0,2110.8Z M1419.2,2217.6 L1429.9,2217.6 L1427.7,2206.6Z M947.5,2446.4 L952.5,2437.6 L942.3,2434.4Z M1362.8,2489.3 L1370.8,2488.6 L1368.3,2480.5Z M1341.1,2465.5 L1349.4,2467.6 L1349.9,2458.6Z M849.3,2475.0 L849.0,2484.2 L858.6,2482.6Z M1307.4,2492.8 L1295.1,2491.8 L1296.6,2504.6Z M1024.2,2099.1 L1023.1,2106.8 L1031.2,2106.3Z M1100.5,2140.0 L1112.4,2137.9 L1107.7,2126.2Z M707.8,2526.9 L718.6,2525.0 L714.4,2514.3Z M877.4,2455.4 L888.3,2459.2 L889.8,2447.1Z M898.2,2211.0 L906.7,2209.5 L903.3,2201.1Z M1115.9,2462.6 L1122.0,2453.9 L1111.8,2449.4Z M863.4,2218.6 L866.6,2209.8 L856.9,2208.3Z M1229.1,2489.8 L1218.3,2486.3 L1217.0,2498.1Z M1098.3,2119.0 L1107.5,2116.4 L1102.9,2107.4Z M609.3,2348.1 L620.2,2349.8 L619.6,2338.1Z M1016.4,2230.3 L1027.5,2228.2 L1022.9,2217.3Z M986.0,2314.6 L996.6,2318.9 L998.8,2307.0Z M1074.9,2517.1 L1085.0,2516.9 L1082.6,2506.5Z M993.7,2151.8 L1004.4,2152.8 L1003.2,2141.7Z M1414.6,2343.1 L1421.6,2347.3 L1424.4,2339.2Z M910.5,2275.1 L922.4,2275.8 L920.6,2263.4Z M1036.4,2166.8 L1032.0,2178.3 L1044.7,2180.4Z M608.7,2347.8 L598.8,2345.8 L598.8,2356.4Z M943.5,2438.0 L953.9,2438.0 L951.7,2427.3Z M1123.8,2406.8 L1128.7,2398.0 L1118.6,2394.8Z M1169.0,2465.6 L1176.8,2468.8 L1178.4,2460.1Z M870.1,2209.9 L879.7,2202.4 L870.0,2194.1Z M1389.7,2146.8 L1398.8,2149.5 L1399.6,2139.5Z M901.6,2119.8 L911.0,2118.2 L907.4,2108.9Z M996.6,2377.2 L1006.4,2376.8 L1003.9,2366.7Z M1200.4,2107.2 L1209.1,2105.8 L1205.7,2097.1Z M1071.7,2372.7 L1069.3,2384.1 L1081.6,2384.2Z M1116.1,2298.1 L1124.7,2301.2 L1126.0,2291.7Z M585.0,2472.6 L594.5,2476.0 L595.9,2465.5Z M849.4,2110.8 L860.8,2108.8 L856.3,2097.5Z M1033.6,2163.8 L1032.3,2175.1 L1044.2,2174.0Z M1029.3,2409.9 L1037.4,2416.0 L1041.9,2406.3Z M920.0,2512.2 L928.6,2512.6 L927.1,2503.6Z M1414.8,2258.6 L1419.0,2251.9 L1411.2,2249.0Z M1357.4,2377.8 L1361.5,2367.8 L1350.3,2365.6Z M1383.6,2525.7 L1395.4,2521.9 L1389.0,2510.6Z M711.6,2496.7 L710.9,2504.6 L719.2,2503.6Z M1045.9,2197.7 L1055.0,2205.9 L1061.4,2194.7Z M920.3,2532.6 L931.1,2535.7 L931.9,2523.8Z M971.1,2442.3 L979.7,2440.8 L976.3,2432.3Z M1413.8,2399.1 L1418.9,2390.6 L1409.1,2387.1Z M983.0,2370.5 L990.3,2373.8 L992.1,2365.5Z M844.7,2506.5 L852.4,2513.2 L857.6,2503.8Z M588.8,2113.0 L594.4,2102.2 L582.1,2098.7Z M863.2,2170.2 L875.0,2172.2 L874.6,2159.7Z M1162.5,2526.3 L1166.0,2519.1 L1157.8,2517.0Z M994.0,2338.3 L1005.7,2337.2 L1002.0,2325.4Z M847.0,2406.6 L854.4,2399.8 L845.9,2393.6Z M888.6,2286.5 L900.8,2285.4 L897.1,2273.1Z M877.3,2381.3 L884.9,2383.0 L884.9,2374.8Z M1375.3,2238.3 L1363.0,2237.1 L1364.4,2250.0Z M868.5,2469.1 L859.4,2466.5 L858.8,2476.4Z M1041.2,2494.2 L1048.7,2499.2 L1052.2,2490.4Z M1051.4,2453.0 L1042.3,2452.6 L1043.8,2462.0Z M1000.8,2211.9 L998.8,2221.8 L1009.4,2221.7Z" stroke-width="1.9" stroke-linejoin="round"/>
<rect x="629.7" y="2128.0" width="197.1" height="315.2" fill="none" stroke-width="1.92" />
<clipPath id="clip629_2128"><rect x="629.7" y="2128.0" width="197.1" height="315.2"/></clipPath>
<path d="M629.7,1959.1 L826.8,1762.0 M652.1,1993.0 L684.1,1961.0 M708.4,1936.7 L739.9,1905.2 M768.0,1877.1 L804.8,1840.3 M629.7,2071.7 L826.8,1874.6 M630.8,2126.9 L669.0,2088.7 M701.3,2056.4 L736.6,2021.1 M757.1,2000.6 L788.7,1969.0 M808.6,1949.1 L827.6,1930.1 M629.7,2184.3 L826.8,1987.2 M646.9,2223.4 L684.0,2186.3 M715.0,2155.3 L756.0,2114.3 M784.5,2085.8 L820.9,2049.4 M629.7,2296.9 L826.8,2099.8 M649.4,2333.5 L685.6,2297.3 M715.0,2267.9 L745.2,2237.7 M774.4,2208.5 L808.4,2174.5 M629.7,2409.5 L826.8,2212.4 M632.6,2462.9 L662.3,2433.2 M682.6,2412.9 L721.5,2374.0 M754.2,2341.3 L791.3,2304.2 M816.3,2279.2 L827.6,2267.9 M629.7,2522.1 L826.8,2325.0 M645.6,2562.5 L676.5,2531.6 M700.6,2507.5 L734.0,2474.1 M758.3,2449.8 L791.9,2416.2 M820.8,2387.3 L827.6,2380.5 M629.7,2634.7 L826.8,2437.6 M645.8,2674.9 L673.2,2647.5 M694.7,2626.0 L734.2,2586.5 M762.1,2558.6 L803.3,2517.4 M629.7,2128.0 L710.4,2257.1 M629.7,2443.2 L710.4,2314.1 M826.8,2128.0 L746.9,2255.7 M826.8,2443.2 L746.9,2315.5" stroke-width="1.6" clip-path="url(#clip629_2128)"/>
<line x1="712.4" y1="2088.0" x2="712.4" y2="2403.0" stroke-width="5.5" stroke-linecap="butt"/>
<line x1="744.9" y1="2088.0" x2="744.9" y2="2403.0" stroke-width="5.5" stroke-linecap="butt"/>
<line x1="702.4" y1="2403.5" x2="754.9" y2="2403.5" stroke-width="6" />
<path d="M728.2,2044.0 L728.2,2250.0 M728.2,2262.0 L728.2,2300 M728.2,2312.0 L728.2,2467.2" stroke-width="1.6" stroke-dasharray="60,10,6,10" stroke-linecap="butt"/>
<path d="M720.2,2285.6 L736.2,2285.6 M722.5,2279.9 L733.9,2291.3 M728.2,2277.6 L728.2,2293.6 M733.9,2279.9 L722.5,2291.3 " fill="none" stroke-width="1.8" />
<rect x="1137.2" y="2128.0" width="197.0" height="315.2" fill="none" stroke-width="1.92" />
<clipPath id="clip1137_2128"><rect x="1137.2" y="2128.0" width="197.0" height="315.2"/></clipPath>
<path d="M1137.2,1959.1 L1334.2,1762.1 M1137.6,2015.0 L1170.5,1982.1 M1198.7,1953.9 L1240.1,1912.5 M1273.8,1878.8 L1308.1,1844.5 M1137.2,2071.7 L1334.2,1874.7 M1140.1,2125.1 L1177.0,2088.2 M1199.8,2065.4 L1229.0,2036.2 M1249.0,2016.2 L1276.0,1989.2 M1305.5,1959.7 L1334.2,1931.0 M1137.2,2184.3 L1334.2,1987.3 M1139.7,2238.1 L1180.1,2197.7 M1201.7,2176.1 L1228.9,2148.9 M1258.9,2118.9 L1289.5,2088.3 M1319.7,2058.1 L1335.0,2042.8 M1137.2,2296.9 L1334.2,2099.9 M1159.1,2331.3 L1197.1,2293.3 M1229.0,2261.4 L1267.2,2223.2 M1288.2,2202.2 L1324.9,2165.5 M1137.2,2409.5 L1334.2,2212.5 M1150.2,2452.8 L1191.6,2411.4 M1215.0,2388.0 L1256.9,2346.1 M1286.8,2316.2 L1313.9,2289.1 M1137.2,2522.1 L1334.2,2325.1 M1155.6,2560.0 L1195.2,2520.4 M1216.1,2499.5 L1247.8,2467.8 M1278.0,2437.6 L1307.4,2408.2 M1137.2,2634.7 L1334.2,2437.7 M1151.0,2677.2 L1178.8,2649.4 M1203.8,2624.4 L1239.6,2588.6 M1265.6,2562.6 L1303.0,2525.2 M1324.8,2503.4 L1335.0,2493.2 M1137.2,2128.0 L1218.7,2257.7 M1137.2,2443.2 L1218.7,2313.5 M1334.2,2128.0 L1254.0,2257.0 M1334.2,2443.2 L1254.0,2314.2" stroke-width="1.6" clip-path="url(#clip1137_2128)"/>
<line x1="1220.7" y1="2088.0" x2="1220.7" y2="2403.0" stroke-width="5.5" stroke-linecap="butt"/>
<line x1="1252.0" y1="2088.0" x2="1252.0" y2="2403.0" stroke-width="5.5" stroke-linecap="butt"/>
<line x1="1210.7" y1="2403.5" x2="1262.0" y2="2403.5" stroke-width="6" />
<path d="M1236.2,2044.0 L1236.2,2250.0 M1236.2,2262.0 L1236.2,2300 M1236.2,2312.0 L1236.2,2467.2" stroke-width="1.6" stroke-dasharray="60,10,6,10" stroke-linecap="butt"/>
<path d="M1228.2,2285.6 L1244.2,2285.6 M1230.5,2279.9 L1241.9,2291.3 M1236.2,2277.6 L1236.2,2293.6 M1241.9,2279.9 L1230.5,2291.3 " fill="none" stroke-width="1.8" />
<line x1="668.0" y1="2089.4" x2="789.0" y2="2089.4" stroke-width="8.5" stroke-linecap="butt"/>
<rect x="686.6" y="2080.4" width="16" height="23" rx="4" fill="#000" stroke="none"/>
<rect x="683.6" y="2083.4" width="22" height="12" rx="3" fill="#000" stroke="none"/>
<rect x="754.4" y="2080.4" width="16" height="23" rx="4" fill="#000" stroke="none"/>
<rect x="751.4" y="2083.4" width="22" height="12" rx="3" fill="#000" stroke="none"/>
<line x1="1176.3" y1="2089.4" x2="1296.4" y2="2089.4" stroke-width="8.5" stroke-linecap="butt"/>
<rect x="1192.4" y="2080.4" width="16" height="23" rx="4" fill="#000" stroke="none"/>
<rect x="1189.4" y="2083.4" width="22" height="12" rx="3" fill="#000" stroke="none"/>
<rect x="1262.6" y="2080.4" width="16" height="23" rx="4" fill="#000" stroke="none"/>
<rect x="1259.6" y="2083.4" width="22" height="12" rx="3" fill="#000" stroke="none"/>
<line x1="712.4" y1="333.0" x2="712.4" y2="466.0" stroke-width="1.6" />
<line x1="1252.0" y1="333.0" x2="1252.0" y2="466.0" stroke-width="1.6" />
<line x1="712.4" y1="351.0" x2="1252.0" y2="351.0" stroke-width="1.6" />
<path d="M712.4,351.0 L754.4,344.5 L754.4,357.5 Z" fill="#000" stroke="none"/>
<path d="M1252.0,351.0 L1210.0,357.5 L1210.0,344.5 Z" fill="#000" stroke="none"/>
<g transform="translate(922.1,325.9)" stroke="#000" fill="none" stroke-width="4.30" stroke-linecap="round" stroke-linejoin="round"><path vector-effect="non-scaling-stroke" transform="matrix(4.1183,0,1.0278,-3.8360,-12.35,0)" d="M0,10.8 L3.5,14 L3.5,0"/><path vector-effect="non-scaling-stroke" transform="matrix(4.1183,0,1.0278,-3.8360,12.77,0)" d="M0.3,14 L6,14 L2.5,8.5 L3,8.5 Q6,8.5 6,4.5 L6,3.5 Q6,0 3,0 L0,0"/><path vector-effect="non-scaling-stroke" transform="matrix(4.1183,0,1.0278,-3.8360,48.18,0)" d="M0,14 L6,14 L1.5,0"/><path vector-effect="non-scaling-stroke" transform="matrix(4.1183,0,1.0278,-3.8360,83.60,0)" d="M3,0 L3,0 Q6,0 6,3 L6,11 Q6,14 3,14 L3,14 Q0,14 0,11 L0,3 Q0,0 3,0 Z"/></g>
<line x1="1437.3" y1="2088.7" x2="1584.4" y2="2088.7" stroke-width="1.6" />
<line x1="1334.2" y1="2128.3" x2="1584.4" y2="2128.3" stroke-width="1.6" />
<line x1="1334.2" y1="2443.2" x2="1584.4" y2="2443.2" stroke-width="1.6" />
<line x1="1566.1" y1="1908.2" x2="1566.1" y2="2088.7" stroke-width="1.6" />
<path d="M1566.1,2088.7 L1559.6,2046.7 L1572.6,2046.7 Z" fill="#000" stroke="none"/>
<line x1="1566.1" y1="2128.3" x2="1566.1" y2="2443.2" stroke-width="1.6" />
<path d="M1566.1,2128.3 L1572.6,2170.3 L1559.6,2170.3 Z" fill="#000" stroke="none"/>
<path d="M1566.1,2443.2 L1559.6,2401.2 L1572.6,2401.2 Z" fill="#000" stroke="none"/>
<g transform="translate(1543.4,1991.4) rotate(-90)" stroke="#000" fill="none" stroke-width="4.37" stroke-linecap="round" stroke-linejoin="round"><path vector-effect="non-scaling-stroke" transform="matrix(4.2932,0,1.0456,-3.9021,-12.88,0)" d="M0,10.8 L3.5,14 L3.5,0"/><path vector-effect="non-scaling-stroke" transform="matrix(4.2932,0,1.0456,-3.9021,13.31,0)" d="M3,0 L3,0 Q6,0 6,3 L6,11 Q6,14 3,14 L3,14 Q0,14 0,11 L0,3 Q0,0 3,0 Z"/><path vector-effect="non-scaling-stroke" transform="matrix(4.2932,0,1.0456,-3.9021,50.23,0)" d="M3,0 L3,0 Q6,0 6,3 L6,11 Q6,14 3,14 L3,14 Q0,14 0,11 L0,3 Q0,0 3,0 Z"/></g>
<g transform="translate(1543.4,2342.8) rotate(-90)" stroke="#000" fill="none" stroke-width="4.37" stroke-linecap="round" stroke-linejoin="round"><path vector-effect="non-scaling-stroke" transform="matrix(4.1806,0,1.0456,-3.9021,-0.00,0)" d="M3,8 Q0.5,8 0.5,11 Q0.5,14 3,14 Q5.5,14 5.5,11 Q5.5,8 3,8 Q0,8 0,4.5 L0,3 Q0,0 3,0 Q6,0 6,3 L6,4.5 Q6,8 3,8 Z"/><path vector-effect="non-scaling-stroke" transform="matrix(4.1806,0,1.0456,-3.9021,35.95,0)" d="M3,0 L3,0 Q6,0 6,3 L6,11 Q6,14 3,14 L3,14 Q0,14 0,11 L0,3 Q0,0 3,0 Z"/><path vector-effect="non-scaling-stroke" transform="matrix(4.1806,0,1.0456,-3.9021,71.91,0)" d="M3,0 L3,0 Q6,0 6,3 L6,11 Q6,14 3,14 L3,14 Q0,14 0,11 L0,3 Q0,0 3,0 Z"/></g>
<line x1="358.7" y1="2646.2" x2="826.8" y2="2646.2" stroke-width="1.6" />
<line x1="629.7" y1="2539.0" x2="629.7" y2="2663.0" stroke-width="1.6" />
<line x1="826.8" y1="2539.0" x2="826.8" y2="2663.0" stroke-width="1.6" />
<path d="M629.7,2646.2 L671.7,2639.7 L671.7,2652.7 Z" fill="#000" stroke="none"/>
<path d="M826.8,2646.2 L784.8,2652.7 L784.8,2639.7 Z" fill="#000" stroke="none"/>
<circle cx="403.4" cy="2601.0" r="25.5" fill="none" stroke-width="2.4" />
<line x1="388.5" y1="2637.0" x2="418.0" y2="2565.0" stroke-width="2.4" />
<g transform="translate(452.1,2622.6)" stroke="#000" fill="none" stroke-width="4.30" stroke-linecap="round" stroke-linejoin="round"><path vector-effect="non-scaling-stroke" transform="matrix(3.9789,0,1.0278,-3.8360,-0.00,0)" d="M6,14 L1,14 L0.6,8.2 L3,8.2 Q6,8.2 6,5 L6,3 Q6,0 3,0 L0,0"/><path vector-effect="non-scaling-stroke" transform="matrix(3.9789,0,1.0278,-3.8360,34.22,0)" d="M3,0 L3,0 Q6,0 6,3 L6,11 Q6,14 3,14 L3,14 Q0,14 0,11 L0,3 Q0,0 3,0 Z"/><path vector-effect="non-scaling-stroke" transform="matrix(3.9789,0,1.0278,-3.8360,68.44,0)" d="M3,0 L3,0 Q6,0 6,3 L6,11 Q6,14 3,14 L3,14 Q0,14 0,11 L0,3 Q0,0 3,0 Z"/></g>
<line x1="728.2" y1="2462.0" x2="728.2" y2="2727.7" stroke-width="1.6" />
<line x1="1236.2" y1="2462.0" x2="1236.2" y2="2727.7" stroke-width="1.6" />
<line x1="728.2" y1="2710.2" x2="1236.2" y2="2710.2" stroke-width="1.6" />
<path d="M728.2,2710.2 L770.2,2703.7 L770.2,2716.7 Z" fill="#000" stroke="none"/>
<path d="M1236.2,2710.2 L1194.2,2716.7 L1194.2,2703.7 Z" fill="#000" stroke="none"/>
<g transform="translate(939.2,2687.6)" stroke="#000" fill="none" stroke-width="4.37" stroke-linecap="round" stroke-linejoin="round"><path vector-effect="non-scaling-stroke" transform="matrix(4.2581,0,1.0456,-3.9021,-12.77,0)" d="M0,10.8 L3.5,14 L3.5,0"/><path vector-effect="non-scaling-stroke" transform="matrix(4.2581,0,1.0456,-3.9021,13.20,0)" d="M0,11.5 Q0.3,14 3,14 Q6,14 6,11 Q6,9 4,7 L0,0 L6,0"/><path vector-effect="non-scaling-stroke" transform="matrix(4.2581,0,1.0456,-3.9021,49.82,0)" d="M0.5,0 Q6,0 6,6 L6,11 Q6,14 3,14 Q0,14 0,11 L0,9 Q0,6 3,6 Q6,6 6,9"/><path vector-effect="non-scaling-stroke" transform="matrix(4.2581,0,1.0456,-3.9021,86.44,0)" d="M3,0 L3,0 Q6,0 6,3 L6,11 Q6,14 3,14 L3,14 Q0,14 0,11 L0,3 Q0,0 3,0 Z"/></g>
</g>
</svg></body></html>
